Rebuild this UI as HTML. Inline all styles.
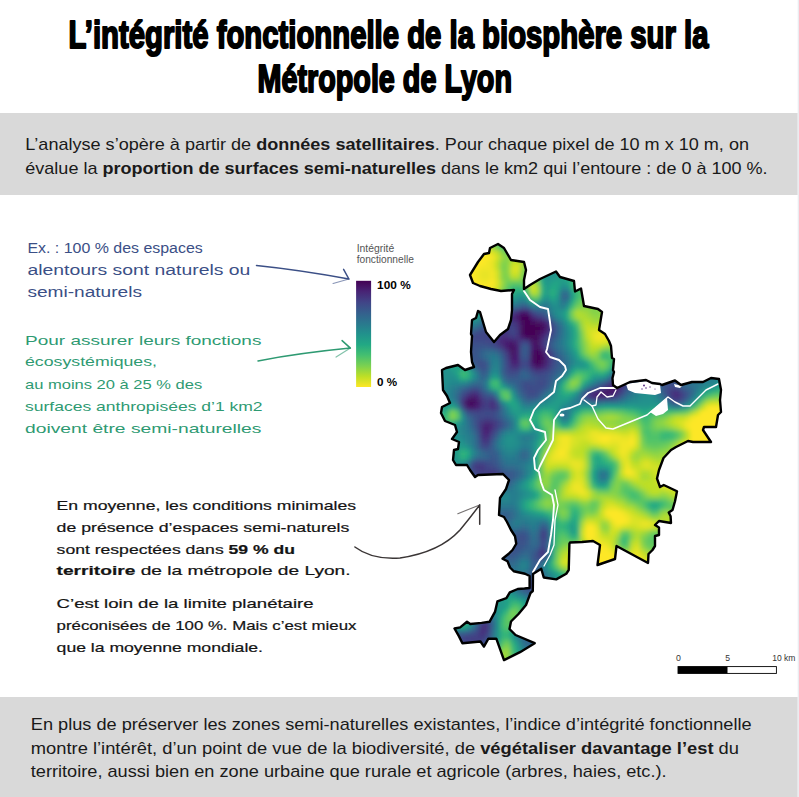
<!DOCTYPE html>
<html><head><meta charset="utf-8"><style>
html,body{margin:0;padding:0;background:#fff;width:799px;height:797px;overflow:hidden}
svg{display:block}
text{font-family:"Liberation Sans", sans-serif}
</style></head><body>
<svg width="799" height="797" viewBox="0 0 799 797"><rect x="0" y="0" width="799" height="797" fill="#fff"/><rect x="0" y="113" width="797.7" height="82" fill="#d9d9d9"/><rect x="0" y="697" width="797.7" height="100" fill="#d9d9d9"/><rect x="797.7" y="0" width="1.3" height="797" fill="#eaecf0"/><text x="68.5" y="47.8" font-size="39" font-weight="bold" fill="#000" textLength="640.0" lengthAdjust="spacingAndGlyphs" font-family="Liberation Sans" stroke="#000" stroke-width="2" stroke-linejoin="round">L’intégrité fonctionnelle de la biosphère sur la</text><text x="257.5" y="91.6" font-size="39" font-weight="bold" fill="#000" textLength="254.5" lengthAdjust="spacingAndGlyphs" font-family="Liberation Sans" stroke="#000" stroke-width="2" stroke-linejoin="round">Métropole de Lyon</text><text x="25.3" y="150.3" font-size="17" font-weight="normal" fill="#1a1a1a" textLength="723.7" lengthAdjust="spacingAndGlyphs" font-family="Liberation Sans">L’analyse s’opère à partir de <tspan font-weight="bold">données satellitaires</tspan>. Pour chaque pixel de 10 m x 10 m, on</text><text x="25.3" y="173.8" font-size="17" font-weight="normal" fill="#1a1a1a" textLength="742.3" lengthAdjust="spacingAndGlyphs" font-family="Liberation Sans">évalue la <tspan font-weight="bold">proportion de surfaces semi-naturelles</tspan> dans le km2 qui l’entoure : de 0 à 100 %.</text><text x="30.8" y="729.9" font-size="17" font-weight="normal" fill="#1a1a1a" textLength="720.8" lengthAdjust="spacingAndGlyphs" font-family="Liberation Sans">En plus de préserver les zones semi-naturelles existantes, l’indice d’intégrité fonctionnelle</text><text x="30.8" y="753.5" font-size="17" font-weight="normal" fill="#1a1a1a" textLength="708.2" lengthAdjust="spacingAndGlyphs" font-family="Liberation Sans">montre l’intérêt, d’un point de vue de la biodiversité, de <tspan font-weight="bold">végétaliser davantage l’est</tspan> du</text><text x="30.8" y="777.2" font-size="17" font-weight="normal" fill="#1a1a1a" textLength="635.8" lengthAdjust="spacingAndGlyphs" font-family="Liberation Sans">territoire, aussi bien en zone urbaine que rurale et agricole (arbres, haies, etc.).</text><text x="27.4" y="253" font-size="14" font-weight="normal" fill="#3b4f86" textLength="175.4" lengthAdjust="spacingAndGlyphs" font-family="Liberation Sans">Ex. : 100 % des espaces</text><text x="27.4" y="275.2" font-size="14" font-weight="normal" fill="#3b4f86" textLength="223.0" lengthAdjust="spacingAndGlyphs" font-family="Liberation Sans">alentours sont naturels ou</text><text x="27.4" y="296.6" font-size="14" font-weight="normal" fill="#3b4f86" textLength="114.6" lengthAdjust="spacingAndGlyphs" font-family="Liberation Sans">semi-naturels</text><text x="25" y="344.6" font-size="13.5" font-weight="normal" fill="#2e9a72" textLength="236.4" lengthAdjust="spacingAndGlyphs" font-family="Liberation Sans">Pour assurer leurs fonctions</text><text x="25" y="366.4" font-size="13.5" font-weight="normal" fill="#2e9a72" textLength="132.0" lengthAdjust="spacingAndGlyphs" font-family="Liberation Sans">écosystémiques,</text><text x="25" y="389" font-size="13.5" font-weight="normal" fill="#2e9a72" textLength="177.2" lengthAdjust="spacingAndGlyphs" font-family="Liberation Sans">au moins 20 à 25 % des</text><text x="25" y="410.8" font-size="13.5" font-weight="normal" fill="#2e9a72" textLength="237.6" lengthAdjust="spacingAndGlyphs" font-family="Liberation Sans">surfaces anthropisées d’1 km2</text><text x="25" y="432.7" font-size="13.5" font-weight="normal" fill="#2e9a72" textLength="236.4" lengthAdjust="spacingAndGlyphs" font-family="Liberation Sans">doivent être semi-naturelles</text><text x="56.6" y="509.9" font-size="13" font-weight="normal" fill="#141414" textLength="299.4" lengthAdjust="spacingAndGlyphs" font-family="Liberation Sans" stroke="#141414" stroke-width="0.2">En moyenne, les conditions minimales</text><text x="56.6" y="531.7" font-size="13" font-weight="normal" fill="#141414" textLength="292.8" lengthAdjust="spacingAndGlyphs" font-family="Liberation Sans" stroke="#141414" stroke-width="0.2">de présence d’espaces semi-naturels</text><text x="56.6" y="553.7" font-size="13" font-weight="normal" fill="#141414" textLength="238.4" lengthAdjust="spacingAndGlyphs" font-family="Liberation Sans" stroke="#141414" stroke-width="0.2">sont respectées dans <tspan font-weight="bold">59 % du</tspan></text><text x="56.6" y="575.4" font-size="13" font-weight="normal" fill="#141414" textLength="294.0" lengthAdjust="spacingAndGlyphs" font-family="Liberation Sans" stroke="#141414" stroke-width="0.2"><tspan font-weight="bold">territoire</tspan> de la métropole de Lyon.</text><text x="56.6" y="608" font-size="13" font-weight="normal" fill="#141414" textLength="257.0" lengthAdjust="spacingAndGlyphs" font-family="Liberation Sans" stroke="#141414" stroke-width="0.2">C’est loin de la limite planétaire</text><text x="56.6" y="630" font-size="13" font-weight="normal" fill="#141414" textLength="299.8" lengthAdjust="spacingAndGlyphs" font-family="Liberation Sans" stroke="#141414" stroke-width="0.2">préconisées de 100 %. Mais c’est mieux</text><text x="56.6" y="651.5" font-size="13" font-weight="normal" fill="#141414" textLength="206.4" lengthAdjust="spacingAndGlyphs" font-family="Liberation Sans" stroke="#141414" stroke-width="0.2">que la moyenne mondiale.</text><g fill="none" stroke-linecap="round" stroke-linejoin="round"><path d="M256.5,265.5 Q300,270 348.9,279 M343.6,269.3 L348.9,279" stroke="#3b4f86" stroke-width="1.5"/><path d="M348.9,279 L333.1,283.5" stroke="#3b4f86" stroke-width="1.2" opacity="0.6"/><path d="M258,360.9 Q300,353 350.4,348.1 M342.1,340.6 L350.4,348.1" stroke="#2e9a72" stroke-width="1.5"/><path d="M350.4,348.1 L336.1,357.1" stroke="#2e9a72" stroke-width="1.2" opacity="0.6"/><path d="M354.9,547 Q372,560 400,558 Q440,552 460,530 Q470,518 479.7,504.9 M479.7,504.9 L479.7,524.2" stroke="#3a3535" stroke-width="1.5"/><path d="M457.8,513.7 L479.7,504.9" stroke="#3a3535" stroke-width="1.1" opacity="0.7"/></g><defs><linearGradient id="vir" x1="0" y1="0" x2="0" y2="1"><stop offset="0" stop-color="#440154"/><stop offset="0.1" stop-color="#482475"/><stop offset="0.2" stop-color="#414487"/><stop offset="0.3" stop-color="#355f8d"/><stop offset="0.4" stop-color="#2a788e"/><stop offset="0.5" stop-color="#21918c"/><stop offset="0.6" stop-color="#22a884"/><stop offset="0.7" stop-color="#44bf70"/><stop offset="0.8" stop-color="#7ad151"/><stop offset="0.9" stop-color="#bddf26"/><stop offset="1" stop-color="#fde725"/></linearGradient></defs><text x="356.7" y="252" font-size="10" font-weight="normal" fill="#555" textLength="37.5" lengthAdjust="spacingAndGlyphs" font-family="Liberation Sans">Intégrité</text><text x="356.7" y="263.1" font-size="10" font-weight="normal" fill="#555" textLength="57.2" lengthAdjust="spacingAndGlyphs" font-family="Liberation Sans">fonctionnelle</text><rect x="356.1" y="280.8" width="15" height="106.2" fill="url(#vir)"/><text x="377.1" y="288.8" font-size="11" font-weight="bold" fill="#000" textLength="33.6" lengthAdjust="spacingAndGlyphs" font-family="Liberation Sans">100 %</text><text x="377.1" y="385.6" font-size="11" font-weight="bold" fill="#000" textLength="20.1" lengthAdjust="spacingAndGlyphs" font-family="Liberation Sans">0 %</text><rect x="678" y="666.6" width="98.4" height="6.8" fill="#fff" stroke="#000" stroke-width="0.9"/><rect x="678" y="666.6" width="49.5" height="6.8" fill="#000"/><text x="676" y="660.5" font-size="9" font-weight="normal" fill="#333" textLength="4.9" lengthAdjust="spacingAndGlyphs" font-family="Liberation Sans">0</text><text x="725.2" y="660.5" font-size="9" font-weight="normal" fill="#333" textLength="4.8" lengthAdjust="spacingAndGlyphs" font-family="Liberation Sans">5</text><text x="772.2" y="660.5" font-size="9" font-weight="normal" fill="#333" textLength="23.2" lengthAdjust="spacingAndGlyphs" font-family="Liberation Sans">10 km</text><defs><clipPath id="mc"><path d="M498,244 L504,248 L511,260 L524,262 L526,270 L524,280 L524,289 L530,285 L540,279 L556,271.5 L560,277 L574,281 L575,291.5 L581,288.5 L584,306 L598,309 L602,312 L599,330 L605,334 L609,341 L611,346 L612,358 L614,359 L613,370 L614,372 L612.5,378 L613,385 L617,388 L630,382 L646,380 L652,383 L660,384 L662,385 L675,380.5 L681,385 L692,382 L703,382 L711,378 L719,379 L721,390 L720,400 L721,412 L718,415 L716,427 L704,427 L703,430 L711,442 L693,442 L688,441 L676,447 L671,450 L663.5,458 L659,470 L657,478.5 L660,487 L663.75,485 L677,491.25 L675,501.25 L672.5,510 L668.75,512.5 L670.6,516.25 L671,523 L659,521 L655,525 L659,527.5 L659,535 L655,536 L655,546 L652.5,550 L648.5,554 L648,563 L616.5,546 L615,559 L597.5,565 L600,545 L593,541 L582,542 L570,542.5 L569.4,543.75 L568.75,570 L566.25,573.75 L556.25,579.4 L543.75,577.5 L541.25,568.75 L533,574 L532.8,591 L530.5,593 L526,605 L518.5,614 L511,621.5 L509.5,629 L515.5,635 L534.7,643.2 L520,652.2 L504,660.1 L496.3,638.7 L488.4,638.7 L483.9,646.6 L480.5,641.5 L462.4,643.2 L459,636.4 L454.5,628.5 L460.2,627.4 L467,621.8 L470.3,624 L481.6,622.9 L489.5,621.8 L495.1,611.6 L497.4,601.4 L506.4,598.1 L509.8,592.4 L517.7,589 L524.5,588.5 L529.6,588 L529.6,576 L525,573.75 L513.75,571.25 L510,567.5 L507.5,561.25 L502.5,558.75 L508.75,553.75 L512.5,550 L516.25,543.75 L515,536.25 L511,530 L507,522 L504,517 L499,515 L500,498 L506,489 L509,480 L503,474 L478,475 L475,477 L470,470 L467,465 L456,465 L453,460 L454,450 L458,449 L459,442 L452,439 L457,432 L455,425 L445,421 L441,413 L442,407 L450,403 L447,396 L443,390 L442,370 L446,368 L458,365 L465,370 L474,367 L472,362 L471,352 L472,336 L471,334 L472,320 L476,318 L478,311 L480,312 L486,332 L494,342 L500,335 L508,329 L511,320 L512,310 L512,294 L514,290 L501,291 L491,289 L480,286 L473,283 L470,275 L478,262 L484,254 L489,253 L490,248 Z"/></clipPath></defs><defs><filter id="bl" x="-5%" y="-5%" width="110%" height="110%"><feGaussianBlur stdDeviation="2"/></filter></defs><g clip-path="url(#mc)"><g filter="url(#bl)"><path fill="#440154" d="M520 315h10v5h-10zM525 320h5v5h-5zM525 325h15v5h-15zM525 330h10v5h-10zM535 350h5v5h-5zM535 355h5v5h-5zM535 360h5v5h-5z"/><path fill="#45075a" d="M540 325h5v5h-5zM520 330h5v5h-5zM535 330h5v5h-5zM530 335h5v5h-5zM470 400h5v5h-5z"/><path fill="#450d5f" d="M520 320h5v5h-5zM530 320h5v5h-5zM520 325h5v5h-5zM525 335h5v5h-5zM535 335h5v5h-5zM510 345h5v5h-5zM535 345h5v5h-5zM540 355h5v5h-5zM465 400h5v5h-5z"/><path fill="#461264" d="M535 320h5v5h-5zM535 340h5v5h-5zM510 350h5v5h-5zM530 355h5v5h-5zM540 360h5v5h-5zM605 390h5v5h-5z"/><path fill="#47186a" d="M520 310h5v5h-5zM515 315h5v5h-5zM540 320h5v5h-5zM540 330h5v5h-5zM510 340h5v5h-5zM530 340h5v5h-5zM530 350h5v5h-5zM540 350h5v5h-5zM510 355h5v5h-5zM530 360h5v5h-5zM535 365h5v5h-5zM600 390h5v5h-5zM610 390h5v5h-5zM470 395h5v5h-5zM475 400h5v5h-5zM470 405h5v5h-5z"/><path fill="#471e70" d="M525 310h5v5h-5zM545 325h5v5h-5zM520 335h5v5h-5zM505 340h5v5h-5zM505 345h5v5h-5zM530 345h5v5h-5zM610 385h5v5h-5zM595 390h5v5h-5zM465 405h5v5h-5zM485 425h5v5h-5z"/><path fill="#482475" d="M530 315h5v5h-5zM500 340h5v5h-5zM515 345h5v5h-5zM515 350h5v5h-5zM515 355h5v5h-5zM510 360h10v5h-10zM540 365h5v5h-5zM615 385h5v5h-5zM475 395h5v5h-5zM475 405h5v5h-5zM485 430h5v5h-5z"/><path fill="#472978" d="M510 315h5v5h-5zM515 320h5v5h-5zM540 335h5v5h-5zM515 340h5v5h-5zM545 355h5v5h-5zM545 360h5v5h-5zM530 365h5v5h-5zM615 380h5v5h-5zM605 385h5v5h-5zM615 390h5v5h-5zM465 395h5v5h-5zM595 395h10v5h-10zM485 420h5v5h-5zM480 425h5v5h-5z"/><path fill="#462f7b" d="M515 310h5v5h-5zM545 320h5v5h-5zM545 330h5v5h-5zM500 335h10v5h-10zM540 345h5v5h-5zM590 390h5v5h-5zM675 390h5v5h-5zM590 395h5v5h-5zM605 395h5v5h-5zM675 395h5v5h-5zM490 400h5v5h-5zM490 405h5v5h-5zM490 425h5v5h-5zM480 430h5v5h-5zM485 435h5v5h-5zM540 550h5v5h-5zM480 625h5v5h-5zM480 630h5v5h-5z"/><path fill="#44347e" d="M535 315h5v5h-5zM515 325h5v5h-5zM500 330h5v5h-5zM515 335h5v5h-5zM540 340h5v5h-5zM500 345h5v5h-5zM505 350h5v5h-5zM545 350h5v5h-5zM510 365h10v5h-10zM545 365h5v5h-5zM610 380h5v5h-5zM620 380h5v5h-5zM470 390h5v5h-5zM670 390h5v5h-5zM460 400h5v5h-5zM480 400h5v5h-5zM480 420h5v5h-5zM490 420h5v5h-5zM480 435h5v5h-5zM475 465h5v5h-5zM485 625h5v5h-5z"/><path fill="#433981" d="M510 320h5v5h-5zM500 325h10v5h-10zM505 330h5v5h-5zM515 330h5v5h-5zM495 335h5v5h-5zM510 335h5v5h-5zM495 340h5v5h-5zM620 375h5v5h-5zM620 385h5v5h-5zM475 390h5v5h-5zM610 395h5v5h-5zM670 395h5v5h-5zM480 405h5v5h-5zM485 440h5v5h-5zM480 465h5v5h-5zM490 470h5v5h-5zM485 475h10v5h-10zM480 480h5v5h-5zM480 635h5v5h-5z"/><path fill="#423f84" d="M510 310h5v5h-5zM505 315h5v5h-5zM540 315h5v5h-5zM505 320h5v5h-5zM495 330h5v5h-5zM490 335h5v5h-5zM545 335h5v5h-5zM505 355h5v5h-5zM535 370h5v5h-5zM600 385h5v5h-5zM480 395h5v5h-5zM485 400h5v5h-5zM485 405h5v5h-5zM495 405h5v5h-5zM495 420h5v5h-5zM490 430h5v5h-5zM480 440h5v5h-5zM480 470h10v5h-10zM495 470h5v5h-5zM480 475h5v5h-5zM495 475h5v5h-5zM475 480h5v5h-5zM485 480h5v5h-5zM475 485h10v5h-10zM470 490h5v5h-5zM465 495h5v5h-5zM455 505h5v5h-5zM440 515h10v5h-10zM440 520h5v5h-5zM540 530h5v5h-5zM540 535h5v5h-5zM540 555h5v5h-5zM480 620h10v5h-10zM485 630h5v5h-5zM465 635h15v5h-15zM470 640h10v5h-10z"/><path fill="#414487" d="M530 310h5v5h-5zM500 320h5v5h-5zM495 325h5v5h-5zM510 325h5v5h-5zM550 325h5v5h-5zM485 330h10v5h-10zM475 335h15v5h-15zM490 340h5v5h-5zM525 340h5v5h-5zM550 355h5v5h-5zM505 360h5v5h-5zM525 360h5v5h-5zM550 360h5v5h-5zM540 370h5v5h-5zM625 370h5v5h-5zM615 375h5v5h-5zM625 375h5v5h-5zM625 380h5v5h-5zM465 390h5v5h-5zM585 390h5v5h-5zM680 390h5v5h-5zM460 395h5v5h-5zM585 395h5v5h-5zM680 395h5v5h-5zM475 410h5v5h-5zM485 415h5v5h-5zM495 425h5v5h-5zM475 460h5v5h-5zM470 465h5v5h-5zM485 465h5v5h-5zM475 470h5v5h-5zM475 475h5v5h-5zM470 485h5v5h-5zM465 490h5v5h-5zM475 490h5v5h-5zM470 495h5v5h-5zM460 500h10v5h-10zM460 505h5v5h-5zM450 510h10v5h-10zM450 515h5v5h-5zM445 520h5v5h-5zM440 525h5v5h-5zM540 545h5v5h-5zM475 630h5v5h-5zM460 635h5v5h-5zM465 640h5v5h-5zM465 645h10v5h-10zM460 650h5v5h-5z"/><path fill="#3f4888" d="M500 315h5v5h-5zM495 320h5v5h-5zM490 325h5v5h-5zM480 330h5v5h-5zM510 330h5v5h-5zM550 330h5v5h-5zM470 335h5v5h-5zM485 340h5v5h-5zM520 340h5v5h-5zM495 345h5v5h-5zM545 345h5v5h-5zM520 360h5v5h-5zM635 360h5v5h-5zM505 365h5v5h-5zM630 365h5v5h-5zM510 370h5v5h-5zM620 370h5v5h-5zM540 380h5v5h-5zM525 385h5v5h-5zM670 385h5v5h-5zM530 390h5v5h-5zM620 390h5v5h-5zM665 390h5v5h-5zM490 395h5v5h-5zM615 395h5v5h-5zM470 410h5v5h-5zM480 410h5v5h-5zM490 410h5v5h-5zM480 415h5v5h-5zM490 415h5v5h-5zM475 420h5v5h-5zM480 460h5v5h-5zM490 465h5v5h-5zM490 480h5v5h-5zM485 485h5v5h-5zM460 495h5v5h-5zM475 495h5v5h-5zM455 500h5v5h-5zM450 505h5v5h-5zM465 505h5v5h-5zM440 510h10v5h-10zM460 510h5v5h-5zM455 515h5v5h-5zM450 520h5v5h-5zM445 525h5v5h-5zM540 540h5v5h-5zM530 580h5v5h-5zM530 585h5v5h-5zM455 640h10v5h-10zM480 640h5v5h-5zM455 645h10v5h-10zM475 645h5v5h-5zM455 650h5v5h-5zM465 650h5v5h-5zM455 655h10v5h-10zM450 660h5v5h-5z"/><path fill="#3d4d89" d="M505 310h5v5h-5zM495 315h5v5h-5zM485 325h5v5h-5zM475 330h5v5h-5zM470 340h15v5h-15zM545 340h5v5h-5zM465 345h5v5h-5zM550 350h5v5h-5zM635 355h10v5h-10zM480 360h5v5h-5zM640 360h5v5h-5zM480 365h5v5h-5zM520 365h10v5h-10zM550 365h5v5h-5zM625 365h5v5h-5zM635 365h5v5h-5zM505 370h5v5h-5zM515 370h5v5h-5zM530 370h5v5h-5zM545 370h5v5h-5zM630 370h5v5h-5zM540 375h5v5h-5zM525 380h5v5h-5zM535 380h5v5h-5zM530 385h15v5h-15zM665 385h5v5h-5zM675 385h5v5h-5zM525 390h5v5h-5zM535 390h5v5h-5zM485 395h5v5h-5zM495 400h5v5h-5zM675 400h5v5h-5zM460 405h5v5h-5zM485 410h5v5h-5zM475 415h5v5h-5zM475 425h5v5h-5zM490 435h5v5h-5zM480 445h10v5h-10zM485 460h5v5h-5zM470 470h5v5h-5zM500 475h5v5h-5zM470 480h5v5h-5zM495 480h5v5h-5zM480 490h5v5h-5zM470 500h5v5h-5zM455 520h5v5h-5zM450 525h5v5h-5zM440 530h10v5h-10zM520 535h5v5h-5zM535 550h5v5h-5zM535 555h5v5h-5zM525 580h5v5h-5zM535 580h5v5h-5zM525 585h5v5h-5zM535 585h5v5h-5zM455 635h5v5h-5zM485 635h5v5h-5zM445 645h10v5h-10zM440 650h15v5h-15zM470 650h5v5h-5zM440 655h15v5h-15zM465 655h5v5h-5zM440 660h10v5h-10zM455 660h10v5h-10z"/><path fill="#3b528a" d="M520 305h5v5h-5zM545 315h5v5h-5zM490 320h5v5h-5zM550 320h5v5h-5zM465 335h5v5h-5zM550 335h5v5h-5zM655 335h5v5h-5zM460 340h10v5h-10zM655 340h5v5h-5zM460 345h5v5h-5zM470 345h10v5h-10zM490 345h5v5h-5zM645 345h15v5h-15zM465 350h10v5h-10zM500 350h5v5h-5zM645 350h15v5h-15zM525 355h5v5h-5zM645 355h15v5h-15zM475 360h5v5h-5zM630 360h5v5h-5zM645 360h15v5h-15zM650 365h15v5h-15zM655 370h10v5h-10zM535 375h5v5h-5zM545 375h5v5h-5zM630 375h5v5h-5zM660 375h10v5h-10zM520 380h5v5h-5zM530 380h5v5h-5zM545 380h5v5h-5zM605 380h5v5h-5zM665 380h10v5h-10zM520 385h5v5h-5zM595 385h5v5h-5zM625 385h5v5h-5zM480 390h5v5h-5zM530 395h5v5h-5zM465 410h5v5h-5zM495 410h5v5h-5zM495 415h5v5h-5zM500 420h5v5h-5zM490 460h5v5h-5zM495 465h5v5h-5zM500 470h5v5h-5zM470 475h5v5h-5zM500 480h5v5h-5zM465 485h5v5h-5zM460 490h5v5h-5zM465 510h5v5h-5zM460 515h5v5h-5zM450 530h5v5h-5zM545 530h5v5h-5zM440 535h5v5h-5zM515 535h5v5h-5zM545 535h5v5h-5zM470 540h5v5h-5zM510 540h15v5h-15zM505 545h15v5h-15zM510 550h5v5h-5zM545 550h5v5h-5zM530 575h5v5h-5zM530 590h10v5h-10zM470 630h5v5h-5zM450 640h5v5h-5zM440 645h5v5h-5z"/><path fill="#39568b" d="M525 305h5v5h-5zM535 310h5v5h-5zM675 315h5v5h-5zM480 325h5v5h-5zM665 325h5v5h-5zM470 330h5v5h-5zM665 330h5v5h-5zM660 335h5v5h-5zM455 340h5v5h-5zM660 340h5v5h-5zM480 345h10v5h-10zM660 345h5v5h-5zM475 350h5v5h-5zM525 350h5v5h-5zM640 350h5v5h-5zM660 350h5v5h-5zM470 355h10v5h-10zM520 355h5v5h-5zM660 355h10v5h-10zM555 360h5v5h-5zM660 360h10v5h-10zM640 365h10v5h-10zM665 365h5v5h-5zM550 370h5v5h-5zM650 370h5v5h-5zM665 370h5v5h-5zM510 375h5v5h-5zM530 375h5v5h-5zM655 375h5v5h-5zM670 375h5v5h-5zM630 380h5v5h-5zM660 380h5v5h-5zM470 385h10v5h-10zM460 390h5v5h-5zM685 390h5v5h-5zM525 395h5v5h-5zM665 395h5v5h-5zM670 400h5v5h-5zM500 425h5v5h-5zM475 430h5v5h-5zM495 430h5v5h-5zM490 455h5v5h-5zM470 460h5v5h-5zM505 475h5v5h-5zM490 485h5v5h-5zM450 500h5v5h-5zM475 500h5v5h-5zM445 505h5v5h-5zM470 505h5v5h-5zM460 520h5v5h-5zM455 525h5v5h-5zM490 525h5v5h-5zM540 525h5v5h-5zM455 530h5v5h-5zM475 530h20v5h-20zM520 530h5v5h-5zM445 535h45v5h-45zM510 535h5v5h-5zM525 535h5v5h-5zM450 540h20v5h-20zM475 540h10v5h-10zM500 540h10v5h-10zM455 545h25v5h-25zM500 545h5v5h-5zM520 545h5v5h-5zM460 550h15v5h-15zM505 550h5v5h-5zM515 550h5v5h-5zM535 575h5v5h-5zM520 580h5v5h-5zM520 585h5v5h-5zM540 590h5v5h-5zM475 625h5v5h-5zM475 650h5v5h-5zM470 655h5v5h-5zM465 660h5v5h-5z"/><path fill="#375a8c" d="M685 305h5v5h-5zM500 310h5v5h-5zM540 310h5v5h-5zM490 315h5v5h-5zM485 320h5v5h-5zM670 325h5v5h-5zM660 330h5v5h-5zM460 335h5v5h-5zM665 335h5v5h-5zM650 340h5v5h-5zM665 340h5v5h-5zM455 345h5v5h-5zM520 345h10v5h-10zM665 345h5v5h-5zM460 350h5v5h-5zM520 350h5v5h-5zM665 350h5v5h-5zM465 355h5v5h-5zM555 355h5v5h-5zM670 355h5v5h-5zM470 360h5v5h-5zM670 360h5v5h-5zM475 365h5v5h-5zM485 365h5v5h-5zM555 365h5v5h-5zM670 365h5v5h-5zM480 370h5v5h-5zM635 370h5v5h-5zM670 370h5v5h-5zM505 375h5v5h-5zM515 375h5v5h-5zM610 375h5v5h-5zM675 380h5v5h-5zM545 385h5v5h-5zM660 385h5v5h-5zM520 390h5v5h-5zM535 395h5v5h-5zM685 395h5v5h-5zM470 415h5v5h-5zM490 440h5v5h-5zM490 450h5v5h-5zM495 460h5v5h-5zM505 470h10v5h-10zM510 475h5v5h-5zM465 480h5v5h-5zM505 480h5v5h-5zM485 490h5v5h-5zM455 495h5v5h-5zM480 495h5v5h-5zM465 515h5v5h-5zM500 515h5v5h-5zM490 520h10v5h-10zM460 525h5v5h-5zM470 525h20v5h-20zM495 525h5v5h-5zM460 530h15v5h-15zM495 530h5v5h-5zM515 530h5v5h-5zM490 535h10v5h-10zM505 535h5v5h-5zM440 540h10v5h-10zM485 540h15v5h-15zM525 540h5v5h-5zM545 540h5v5h-5zM450 545h5v5h-5zM480 545h20v5h-20zM475 550h5v5h-5zM495 550h10v5h-10zM510 555h5v5h-5zM530 555h5v5h-5zM535 560h5v5h-5zM530 570h10v5h-10zM540 585h5v5h-5zM535 595h10v5h-10zM480 615h5v5h-5zM450 635h5v5h-5zM445 640h5v5h-5zM485 640h5v5h-5zM480 645h5v5h-5z"/><path fill="#355f8d" d="M715 275h5v5h-5zM705 285h5v5h-5zM695 295h5v5h-5zM680 315h5v5h-5zM670 320h10v5h-10zM555 325h5v5h-5zM675 325h5v5h-5zM465 330h5v5h-5zM555 330h5v5h-5zM670 330h5v5h-5zM455 335h5v5h-5zM670 335h5v5h-5zM450 340h5v5h-5zM550 340h5v5h-5zM670 340h5v5h-5zM550 345h5v5h-5zM670 345h5v5h-5zM670 350h5v5h-5zM500 355h5v5h-5zM675 355h5v5h-5zM485 360h5v5h-5zM675 360h5v5h-5zM620 365h5v5h-5zM675 365h5v5h-5zM525 370h5v5h-5zM615 370h5v5h-5zM640 370h10v5h-10zM675 370h5v5h-5zM550 375h5v5h-5zM650 375h5v5h-5zM675 375h5v5h-5zM515 380h5v5h-5zM655 380h5v5h-5zM680 385h5v5h-5zM540 390h5v5h-5zM660 390h5v5h-5zM580 395h5v5h-5zM680 400h5v5h-5zM470 420h5v5h-5zM475 435h5v5h-5zM490 445h5v5h-5zM485 450h5v5h-5zM495 455h5v5h-5zM465 475h5v5h-5zM495 485h10v5h-10zM440 505h5v5h-5zM475 505h5v5h-5zM470 510h5v5h-5zM495 515h5v5h-5zM505 515h5v5h-5zM465 520h25v5h-25zM500 520h5v5h-5zM465 525h5v5h-5zM510 530h5v5h-5zM525 530h5v5h-5zM500 535h5v5h-5zM445 545h5v5h-5zM525 545h5v5h-5zM535 545h5v5h-5zM545 545h5v5h-5zM455 550h5v5h-5zM480 550h15v5h-15zM530 550h5v5h-5zM485 555h25v5h-25zM530 560h5v5h-5zM530 565h10v5h-10zM525 575h5v5h-5zM540 580h5v5h-5zM525 590h5v5h-5zM545 595h5v5h-5zM485 615h5v5h-5zM465 630h5v5h-5zM440 640h5v5h-5z"/><path fill="#33638d" d="M515 305h5v5h-5zM690 305h5v5h-5zM495 310h5v5h-5zM680 310h10v5h-10zM680 320h5v5h-5zM675 330h5v5h-5zM450 335h5v5h-5zM555 335h5v5h-5zM675 335h5v5h-5zM675 340h5v5h-5zM675 345h5v5h-5zM480 350h5v5h-5zM555 350h5v5h-5zM675 350h5v5h-5zM480 355h5v5h-5zM630 355h5v5h-5zM500 360h5v5h-5zM560 360h5v5h-5zM625 360h5v5h-5zM500 365h5v5h-5zM560 365h5v5h-5zM485 370h5v5h-5zM500 370h5v5h-5zM520 370h5v5h-5zM555 370h5v5h-5zM680 370h5v5h-5zM480 375h5v5h-5zM520 375h10v5h-10zM635 375h5v5h-5zM510 380h5v5h-5zM550 380h5v5h-5zM465 385h5v5h-5zM480 385h5v5h-5zM515 385h5v5h-5zM590 385h5v5h-5zM630 385h5v5h-5zM485 390h5v5h-5zM625 390h5v5h-5zM620 395h5v5h-5zM500 415h5v5h-5zM505 420h5v5h-5zM470 425h5v5h-5zM475 440h5v5h-5zM495 450h5v5h-5zM485 455h5v5h-5zM500 465h5v5h-5zM465 470h5v5h-5zM515 470h5v5h-5zM460 485h5v5h-5zM475 510h5v5h-5zM500 510h10v5h-10zM470 515h25v5h-25zM500 525h5v5h-5zM545 525h5v5h-5zM500 530h10v5h-10zM440 545h5v5h-5zM450 550h5v5h-5zM520 550h5v5h-5zM460 555h25v5h-25zM515 555h5v5h-5zM545 555h5v5h-5zM485 560h20v5h-20zM515 580h5v5h-5zM545 590h5v5h-5zM530 595h5v5h-5zM540 600h10v5h-10zM475 620h5v5h-5zM490 620h5v5h-5zM490 625h5v5h-5zM525 635h15v5h-15zM525 640h25v5h-25zM535 645h25v5h-25zM480 650h5v5h-5zM535 650h30v5h-30zM540 655h30v5h-30zM470 660h5v5h-5zM545 660h30v5h-30z"/><path fill="#31678d" d="M720 270h5v5h-5zM720 275h5v5h-5zM710 280h5v5h-5zM700 290h10v5h-10zM560 295h10v5h-10zM700 295h5v5h-5zM690 300h10v5h-10zM505 305h10v5h-10zM545 310h5v5h-5zM685 315h5v5h-5zM475 325h5v5h-5zM680 325h5v5h-5zM450 330h15v5h-15zM680 330h5v5h-5zM440 335h10v5h-10zM650 335h5v5h-5zM680 335h5v5h-5zM645 340h5v5h-5zM680 340h5v5h-5zM450 345h5v5h-5zM640 345h5v5h-5zM680 345h5v5h-5zM455 350h5v5h-5zM495 350h5v5h-5zM635 350h5v5h-5zM680 350h5v5h-5zM560 355h5v5h-5zM680 355h5v5h-5zM680 360h5v5h-5zM680 365h5v5h-5zM680 375h5v5h-5zM505 380h5v5h-5zM600 380h5v5h-5zM680 380h5v5h-5zM685 385h5v5h-5zM580 390h5v5h-5zM690 390h5v5h-5zM455 395h5v5h-5zM520 395h5v5h-5zM595 400h5v5h-5zM505 425h5v5h-5zM495 435h5v5h-5zM475 445h5v5h-5zM480 450h5v5h-5zM520 450h5v5h-5zM480 455h5v5h-5zM520 455h5v5h-5zM515 475h5v5h-5zM505 485h5v5h-5zM455 490h5v5h-5zM490 490h5v5h-5zM450 495h5v5h-5zM485 495h5v5h-5zM445 500h5v5h-5zM480 500h5v5h-5zM480 510h5v5h-5zM505 520h5v5h-5zM535 535h5v5h-5zM535 540h5v5h-5zM530 545h5v5h-5zM445 550h5v5h-5zM525 550h5v5h-5zM480 560h5v5h-5zM505 560h10v5h-10zM495 565h5v5h-5zM520 575h5v5h-5zM540 575h5v5h-5zM515 585h5v5h-5zM535 600h5v5h-5zM550 600h5v5h-5zM545 605h10v5h-10zM455 630h10v5h-10zM535 630h5v5h-5zM540 635h10v5h-10zM550 640h10v5h-10zM530 645h5v5h-5zM560 645h5v5h-5zM565 650h10v5h-10zM475 655h5v5h-5zM570 655h10v5h-10zM575 660h5v5h-5z"/><path fill="#306c8e" d="M715 280h5v5h-5zM710 285h5v5h-5zM680 305h5v5h-5zM695 305h5v5h-5zM675 310h5v5h-5zM690 310h5v5h-5zM485 315h5v5h-5zM670 315h5v5h-5zM690 315h5v5h-5zM480 320h5v5h-5zM555 320h5v5h-5zM665 320h5v5h-5zM685 320h5v5h-5zM660 325h5v5h-5zM685 325h5v5h-5zM440 330h10v5h-10zM655 330h5v5h-5zM685 330h5v5h-5zM685 335h5v5h-5zM445 340h5v5h-5zM685 340h5v5h-5zM685 345h5v5h-5zM485 350h5v5h-5zM685 350h5v5h-5zM460 355h5v5h-5zM685 355h5v5h-5zM685 360h5v5h-5zM685 365h5v5h-5zM560 370h5v5h-5zM685 370h5v5h-5zM645 375h5v5h-5zM685 375h5v5h-5zM475 380h10v5h-10zM635 380h5v5h-5zM650 380h5v5h-5zM460 385h5v5h-5zM655 385h5v5h-5zM455 390h5v5h-5zM525 400h5v5h-5zM590 400h5v5h-5zM500 405h5v5h-5zM500 410h5v5h-5zM465 415h5v5h-5zM525 450h5v5h-5zM475 455h5v5h-5zM525 455h5v5h-5zM500 460h5v5h-5zM465 465h5v5h-5zM505 465h10v5h-10zM460 480h5v5h-5zM510 480h5v5h-5zM480 505h5v5h-5zM485 510h15v5h-15zM510 510h5v5h-5zM510 515h5v5h-5zM505 525h5v5h-5zM520 525h5v5h-5zM535 530h5v5h-5zM530 540h5v5h-5zM440 550h5v5h-5zM455 555h5v5h-5zM475 560h5v5h-5zM540 560h5v5h-5zM485 565h10v5h-10zM500 565h10v5h-10zM495 570h5v5h-5zM515 575h5v5h-5zM510 580h5v5h-5zM545 585h5v5h-5zM520 590h5v5h-5zM550 595h5v5h-5zM540 605h5v5h-5zM555 605h5v5h-5zM545 610h15v5h-15zM475 615h5v5h-5zM555 615h10v5h-10zM490 630h5v5h-5zM530 630h5v5h-5zM540 630h5v5h-5zM445 635h5v5h-5zM490 635h5v5h-5zM520 635h5v5h-5zM550 635h10v5h-10zM490 640h5v5h-5zM560 640h10v5h-10zM485 645h5v5h-5zM525 645h5v5h-5zM565 645h10v5h-10zM530 650h5v5h-5zM575 650h5v5h-5zM535 655h5v5h-5zM580 655h5v5h-5zM540 660h5v5h-5zM580 660h10v5h-10z"/><path fill="#2e708e" d="M720 265h5v5h-5zM715 270h5v5h-5zM710 275h5v5h-5zM705 280h5v5h-5zM700 285h5v5h-5zM560 290h10v5h-10zM695 290h5v5h-5zM690 295h5v5h-5zM705 295h5v5h-5zM685 300h5v5h-5zM700 300h5v5h-5zM500 305h5v5h-5zM530 305h5v5h-5zM540 305h5v5h-5zM490 310h5v5h-5zM695 310h5v5h-5zM550 315h5v5h-5zM690 320h5v5h-5zM690 325h5v5h-5zM690 330h5v5h-5zM690 335h5v5h-5zM440 340h5v5h-5zM555 340h5v5h-5zM690 340h5v5h-5zM555 345h5v5h-5zM690 345h5v5h-5zM490 350h5v5h-5zM560 350h5v5h-5zM690 350h5v5h-5zM485 355h5v5h-5zM690 355h5v5h-5zM465 360h5v5h-5zM565 360h5v5h-5zM690 360h5v5h-5zM470 365h5v5h-5zM690 365h5v5h-5zM485 375h5v5h-5zM500 375h5v5h-5zM555 375h5v5h-5zM640 375h5v5h-5zM685 380h5v5h-5zM550 385h5v5h-5zM690 385h5v5h-5zM490 390h5v5h-5zM515 390h5v5h-5zM545 390h5v5h-5zM495 395h5v5h-5zM540 395h5v5h-5zM660 395h5v5h-5zM455 400h5v5h-5zM530 400h5v5h-5zM600 400h5v5h-5zM470 430h5v5h-5zM515 465h5v5h-5zM520 470h5v5h-5zM460 475h5v5h-5zM600 475h5v5h-5zM490 495h5v5h-5zM440 500h5v5h-5zM485 500h5v5h-5zM485 505h5v5h-5zM540 520h5v5h-5zM525 525h5v5h-5zM530 535h5v5h-5zM450 555h5v5h-5zM520 555h10v5h-10zM515 560h5v5h-5zM480 565h5v5h-5zM510 565h5v5h-5zM490 570h5v5h-5zM500 570h15v5h-15zM525 570h5v5h-5zM540 570h5v5h-5zM505 575h10v5h-10zM505 580h5v5h-5zM545 580h5v5h-5zM555 600h5v5h-5zM480 610h10v5h-10zM560 610h5v5h-5zM545 615h10v5h-10zM565 615h5v5h-5zM550 620h20v5h-20zM550 625h25v5h-25zM450 630h5v5h-5zM525 630h5v5h-5zM545 630h35v5h-35zM560 635h25v5h-25zM570 640h15v5h-15zM575 645h20v5h-20zM580 650h15v5h-15zM585 655h20v5h-20zM590 660h15v5h-15z"/><path fill="#2c748e" d="M720 280h5v5h-5zM715 285h5v5h-5zM710 290h5v5h-5zM520 300h5v5h-5zM560 300h5v5h-5zM705 300h5v5h-5zM545 305h5v5h-5zM700 305h5v5h-5zM700 310h5v5h-5zM695 315h10v5h-10zM695 320h10v5h-10zM450 325h25v5h-25zM560 325h5v5h-5zM695 325h5v5h-5zM560 330h5v5h-5zM695 330h5v5h-5zM695 335h5v5h-5zM695 340h5v5h-5zM695 345h5v5h-5zM695 350h5v5h-5zM695 355h5v5h-5zM695 360h5v5h-5zM565 365h5v5h-5zM475 370h5v5h-5zM690 370h5v5h-5zM690 375h5v5h-5zM470 380h5v5h-5zM595 380h5v5h-5zM690 380h5v5h-5zM635 385h5v5h-5zM630 390h5v5h-5zM625 395h5v5h-5zM690 395h5v5h-5zM585 400h5v5h-5zM605 400h10v5h-10zM665 400h5v5h-5zM685 400h5v5h-5zM560 410h10v5h-10zM505 415h5v5h-5zM465 420h5v5h-5zM500 430h5v5h-5zM495 440h5v5h-5zM495 445h5v5h-5zM500 455h5v5h-5zM515 455h5v5h-5zM505 460h20v5h-20zM600 470h5v5h-5zM520 475h5v5h-5zM455 485h5v5h-5zM495 490h5v5h-5zM490 500h5v5h-5zM490 505h25v5h-25zM510 525h10v5h-10zM535 525h5v5h-5zM530 530h5v5h-5zM440 555h10v5h-10zM470 560h5v5h-5zM485 570h5v5h-5zM515 570h5v5h-5zM495 575h10v5h-10zM510 585h5v5h-5zM550 590h5v5h-5zM535 605h5v5h-5zM475 610h5v5h-5zM540 610h5v5h-5zM490 615h5v5h-5zM545 620h5v5h-5zM570 620h5v5h-5zM535 625h15v5h-15zM575 625h5v5h-5zM580 630h5v5h-5zM440 635h5v5h-5zM520 640h5v5h-5zM585 640h5v5h-5zM595 650h5v5h-5zM605 660h5v5h-5z"/><path fill="#2a788e" d="M720 285h5v5h-5zM715 290h10v5h-10zM710 295h5v5h-5zM710 300h5v5h-5zM535 305h5v5h-5zM705 305h10v5h-10zM705 310h10v5h-10zM705 315h5v5h-5zM705 320h5v5h-5zM440 325h10v5h-10zM700 325h10v5h-10zM700 330h10v5h-10zM560 335h5v5h-5zM700 335h10v5h-10zM700 340h5v5h-5zM445 345h5v5h-5zM560 345h5v5h-5zM700 345h5v5h-5zM450 350h5v5h-5zM700 350h5v5h-5zM495 355h5v5h-5zM565 355h5v5h-5zM700 355h5v5h-5zM700 360h5v5h-5zM695 365h5v5h-5zM695 370h5v5h-5zM695 375h5v5h-5zM695 380h5v5h-5zM455 385h5v5h-5zM510 385h5v5h-5zM585 385h5v5h-5zM650 385h5v5h-5zM695 385h5v5h-5zM655 390h5v5h-5zM520 400h5v5h-5zM535 400h5v5h-5zM575 400h5v5h-5zM615 400h5v5h-5zM560 415h10v5h-10zM510 420h5v5h-5zM465 425h5v5h-5zM510 425h5v5h-5zM470 435h5v5h-5zM525 435h5v5h-5zM470 440h5v5h-5zM475 450h5v5h-5zM520 465h5v5h-5zM460 470h5v5h-5zM510 485h5v5h-5zM450 490h5v5h-5zM445 495h5v5h-5zM515 510h5v5h-5zM515 515h5v5h-5zM510 520h5v5h-5zM520 520h5v5h-5zM545 520h5v5h-5zM450 560h10v5h-10zM475 565h5v5h-5zM515 565h5v5h-5zM520 570h5v5h-5zM490 575h5v5h-5zM545 575h5v5h-5zM500 580h5v5h-5zM525 595h5v5h-5zM530 600h5v5h-5zM560 605h5v5h-5zM565 610h5v5h-5zM540 615h5v5h-5zM540 620h5v5h-5zM470 625h5v5h-5zM520 630h5v5h-5zM585 635h5v5h-5zM590 640h5v5h-5zM595 645h5v5h-5zM600 650h5v5h-5zM530 655h5v5h-5zM605 655h5v5h-5zM610 660h5v5h-5z"/><path fill="#287c8e" d="M715 295h10v5h-10zM715 300h10v5h-10zM715 305h10v5h-10zM715 310h10v5h-10zM710 315h15v5h-15zM710 320h15v5h-15zM710 325h15v5h-15zM710 330h15v5h-15zM710 335h10v5h-10zM560 340h5v5h-5zM705 340h15v5h-15zM705 345h10v5h-10zM705 350h10v5h-10zM455 355h5v5h-5zM490 355h5v5h-5zM705 355h10v5h-10zM490 360h5v5h-5zM620 360h5v5h-5zM705 360h5v5h-5zM700 365h10v5h-10zM610 370h5v5h-5zM700 370h10v5h-10zM475 375h5v5h-5zM700 375h5v5h-5zM640 380h10v5h-10zM700 380h5v5h-5zM450 390h5v5h-5zM450 395h5v5h-5zM575 395h5v5h-5zM580 400h5v5h-5zM465 430h5v5h-5zM520 435h5v5h-5zM520 445h10v5h-10zM500 450h5v5h-5zM515 450h5v5h-5zM505 455h10v5h-10zM525 460h5v5h-5zM455 480h5v5h-5zM515 480h5v5h-5zM500 490h5v5h-5zM510 490h5v5h-5zM495 495h5v5h-5zM510 495h5v5h-5zM495 500h5v5h-5zM510 500h5v5h-5zM525 520h5v5h-5zM535 520h5v5h-5zM530 525h5v5h-5zM440 560h10v5h-10zM465 560h5v5h-5zM525 560h5v5h-5zM525 565h5v5h-5zM540 565h5v5h-5zM480 570h5v5h-5zM485 575h5v5h-5zM505 585h5v5h-5zM515 590h5v5h-5zM555 595h5v5h-5zM475 605h10v5h-10zM570 615h5v5h-5zM535 620h5v5h-5zM575 620h5v5h-5zM530 625h5v5h-5zM445 630h5v5h-5zM490 645h5v5h-5zM485 650h5v5h-5zM480 655h5v5h-5zM475 660h5v5h-5zM535 660h5v5h-5z"/><path fill="#27808d" d="M515 300h5v5h-5zM525 300h5v5h-5zM545 300h5v5h-5zM565 300h5v5h-5zM560 305h5v5h-5zM480 315h5v5h-5zM475 320h5v5h-5zM560 320h5v5h-5zM720 335h5v5h-5zM720 340h5v5h-5zM440 345h5v5h-5zM715 345h10v5h-10zM565 350h5v5h-5zM630 350h5v5h-5zM715 350h10v5h-10zM715 355h10v5h-10zM495 360h5v5h-5zM710 360h15v5h-15zM490 365h5v5h-5zM615 365h5v5h-5zM710 365h15v5h-15zM565 370h5v5h-5zM710 370h15v5h-15zM560 375h5v5h-5zM605 375h5v5h-5zM705 375h10v5h-10zM555 380h5v5h-5zM705 380h10v5h-10zM450 385h5v5h-5zM485 385h5v5h-5zM550 390h5v5h-5zM635 390h5v5h-5zM695 390h5v5h-5zM515 395h5v5h-5zM545 395h5v5h-5zM630 395h5v5h-5zM570 400h5v5h-5zM620 400h5v5h-5zM565 405h5v5h-5zM675 405h5v5h-5zM460 410h5v5h-5zM505 410h5v5h-5zM465 435h5v5h-5zM530 435h5v5h-5zM520 440h10v5h-10zM470 445h5v5h-5zM470 455h5v5h-5zM465 460h5v5h-5zM460 465h5v5h-5zM525 470h5v5h-5zM605 470h5v5h-5zM455 475h5v5h-5zM605 475h5v5h-5zM450 485h5v5h-5zM505 490h5v5h-5zM515 490h5v5h-5zM440 495h5v5h-5zM515 495h5v5h-5zM500 500h10v5h-10zM515 505h5v5h-5zM520 515h5v5h-5zM515 520h5v5h-5zM530 520h5v5h-5zM460 560h5v5h-5zM520 560h5v5h-5zM450 565h10v5h-10zM470 565h5v5h-5zM495 580h5v5h-5zM550 585h5v5h-5zM475 600h5v5h-5zM560 600h5v5h-5zM485 605h5v5h-5zM490 610h5v5h-5zM535 610h5v5h-5zM440 625h5v5h-5zM580 625h5v5h-5zM440 630h5v5h-5zM585 630h5v5h-5zM515 635h5v5h-5zM590 635h5v5h-5zM595 640h5v5h-5zM520 645h5v5h-5zM525 650h5v5h-5zM605 650h5v5h-5z"/><path fill="#26848d" d="M505 300h5v5h-5zM495 305h5v5h-5zM485 310h5v5h-5zM550 310h5v5h-5zM440 320h30v5h-30zM640 340h5v5h-5zM625 355h5v5h-5zM460 360h5v5h-5zM570 360h5v5h-5zM495 365h5v5h-5zM715 375h5v5h-5zM465 380h5v5h-5zM485 380h5v5h-5zM500 380h5v5h-5zM700 385h5v5h-5zM445 390h5v5h-5zM445 395h5v5h-5zM655 395h5v5h-5zM540 400h5v5h-5zM660 400h5v5h-5zM525 405h5v5h-5zM570 405h5v5h-5zM670 405h5v5h-5zM510 415h5v5h-5zM460 425h5v5h-5zM460 430h5v5h-5zM505 430h5v5h-5zM500 435h5v5h-5zM465 440h5v5h-5zM500 445h5v5h-5zM505 450h10v5h-10zM530 450h5v5h-5zM530 455h5v5h-5zM525 465h5v5h-5zM455 470h5v5h-5zM450 480h5v5h-5zM515 485h5v5h-5zM445 490h5v5h-5zM515 500h5v5h-5zM525 515h5v5h-5zM445 565h5v5h-5zM520 565h5v5h-5zM450 570h10v5h-10zM475 570h5v5h-5zM545 570h5v5h-5zM480 575h5v5h-5zM465 580h5v5h-5zM490 580h5v5h-5zM550 580h5v5h-5zM500 585h5v5h-5zM555 590h5v5h-5zM470 595h10v5h-10zM480 600h5v5h-5zM470 605h5v5h-5zM530 605h5v5h-5zM565 605h5v5h-5zM470 610h5v5h-5zM470 615h5v5h-5zM535 615h5v5h-5zM530 620h5v5h-5zM515 630h5v5h-5zM600 645h5v5h-5zM610 655h5v5h-5zM615 660h5v5h-5z"/><path fill="#24898d" d="M520 295h5v5h-5zM510 300h5v5h-5zM540 300h5v5h-5zM550 305h5v5h-5zM555 315h5v5h-5zM470 320h5v5h-5zM565 330h5v5h-5zM650 330h5v5h-5zM565 335h5v5h-5zM565 345h5v5h-5zM570 355h5v5h-5zM490 370h10v5h-10zM720 375h5v5h-5zM450 380h10v5h-10zM590 380h5v5h-5zM715 380h5v5h-5zM445 385h5v5h-5zM640 385h10v5h-10zM440 390h5v5h-5zM650 390h5v5h-5zM440 395h5v5h-5zM635 395h5v5h-5zM450 400h5v5h-5zM500 400h5v5h-5zM625 400h5v5h-5zM505 405h5v5h-5zM530 405h5v5h-5zM560 405h5v5h-5zM460 420h5v5h-5zM510 430h5v5h-5zM530 430h5v5h-5zM460 435h5v5h-5zM515 435h5v5h-5zM500 440h5v5h-5zM530 440h5v5h-5zM515 445h5v5h-5zM530 445h5v5h-5zM530 460h5v5h-5zM455 465h5v5h-5zM595 470h5v5h-5zM450 475h5v5h-5zM525 475h5v5h-5zM595 475h5v5h-5zM600 480h5v5h-5zM445 485h5v5h-5zM440 490h5v5h-5zM520 490h5v5h-5zM500 495h10v5h-10zM520 510h5v5h-5zM530 515h5v5h-5zM440 565h5v5h-5zM460 565h10v5h-10zM460 570h5v5h-5zM470 570h5v5h-5zM455 575h15v5h-15zM550 575h5v5h-5zM460 580h5v5h-5zM470 580h5v5h-5zM485 580h5v5h-5zM465 585h15v5h-15zM495 585h5v5h-5zM470 590h10v5h-10zM480 595h5v5h-5zM520 595h5v5h-5zM470 600h5v5h-5zM485 600h5v5h-5zM570 610h5v5h-5zM470 620h5v5h-5zM445 625h5v5h-5zM525 625h5v5h-5z"/><path fill="#228d8c" d="M720 260h5v5h-5zM710 270h5v5h-5zM700 280h5v5h-5zM560 285h5v5h-5zM690 290h5v5h-5zM680 300h5v5h-5zM555 305h5v5h-5zM670 310h5v5h-5zM660 320h5v5h-5zM565 325h5v5h-5zM565 340h5v5h-5zM635 345h5v5h-5zM445 350h5v5h-5zM450 355h5v5h-5zM465 365h5v5h-5zM450 375h5v5h-5zM445 380h5v5h-5zM460 380h5v5h-5zM440 385h5v5h-5zM505 385h5v5h-5zM555 385h5v5h-5zM640 390h10v5h-10zM550 395h5v5h-5zM640 395h5v5h-5zM440 400h10v5h-10zM545 400h5v5h-5zM630 400h10v5h-10zM655 400h5v5h-5zM520 405h5v5h-5zM575 405h5v5h-5zM680 405h5v5h-5zM455 425h5v5h-5zM455 430h5v5h-5zM515 430h5v5h-5zM515 440h5v5h-5zM505 445h10v5h-10zM470 450h5v5h-5zM450 470h5v5h-5zM445 475h5v5h-5zM440 480h10v5h-10zM520 480h5v5h-5zM440 485h5v5h-5zM520 495h5v5h-5zM535 515h10v5h-10zM545 560h5v5h-5zM465 570h5v5h-5zM450 575h5v5h-5zM470 575h10v5h-10zM475 580h10v5h-10zM460 585h5v5h-5zM480 585h5v5h-5zM490 585h5v5h-5zM465 590h5v5h-5zM480 590h5v5h-5zM510 590h5v5h-5zM485 595h5v5h-5zM490 605h5v5h-5zM530 610h5v5h-5zM530 615h5v5h-5zM575 615h5v5h-5zM440 620h5v5h-5zM495 620h5v5h-5zM580 620h5v5h-5zM495 625h5v5h-5zM585 625h5v5h-5zM530 660h5v5h-5z"/><path fill="#21918c" d="M565 240h20v5h-20zM565 245h10v5h-10zM560 250h15v5h-15zM555 255h15v5h-15zM550 260h15v5h-15zM545 265h15v5h-15zM545 270h10v5h-10zM545 275h5v5h-5zM565 285h5v5h-5zM500 300h5v5h-5zM555 300h5v5h-5zM555 310h5v5h-5zM450 315h15v5h-15zM560 315h5v5h-5zM645 335h5v5h-5zM570 350h5v5h-5zM575 360h5v5h-5zM440 365h5v5h-5zM570 365h5v5h-5zM440 370h10v5h-10zM440 375h10v5h-10zM440 380h5v5h-5zM705 385h10v5h-10zM570 395h5v5h-5zM645 395h10v5h-10zM695 395h5v5h-5zM565 400h5v5h-5zM640 400h15v5h-15zM690 400h5v5h-5zM455 405h5v5h-5zM535 405h5v5h-5zM560 420h5v5h-5zM520 430h10v5h-10zM535 430h5v5h-5zM440 435h20v5h-20zM505 435h10v5h-10zM535 435h5v5h-5zM440 440h10v5h-10zM460 440h5v5h-5zM505 440h10v5h-10zM440 445h10v5h-10zM440 450h15v5h-15zM440 455h15v5h-15zM440 460h20v5h-20zM440 465h15v5h-15zM530 465h5v5h-5zM440 470h10v5h-10zM530 470h5v5h-5zM440 475h5v5h-5zM525 490h5v5h-5zM445 570h5v5h-5zM455 580h5v5h-5zM485 585h5v5h-5zM555 585h5v5h-5zM485 590h10v5h-10zM465 595h5v5h-5zM490 595h5v5h-5zM560 595h5v5h-5zM525 600h5v5h-5zM565 600h5v5h-5zM495 610h5v5h-5zM495 615h5v5h-5zM525 615h5v5h-5zM450 625h5v5h-5zM495 630h5v5h-5zM590 630h5v5h-5zM495 635h5v5h-5zM595 635h5v5h-5zM495 640h5v5h-5zM600 640h5v5h-5zM605 645h5v5h-5zM520 650h5v5h-5zM610 650h5v5h-5zM525 655h5v5h-5zM615 655h5v5h-5z"/><path fill="#21958b" d="M560 245h5v5h-5zM575 245h5v5h-5zM555 250h5v5h-5zM550 255h5v5h-5zM570 255h5v5h-5zM545 260h5v5h-5zM565 260h5v5h-5zM560 265h5v5h-5zM555 270h5v5h-5zM550 275h5v5h-5zM545 280h5v5h-5zM515 295h5v5h-5zM545 295h5v5h-5zM550 300h5v5h-5zM490 305h5v5h-5zM565 305h5v5h-5zM480 310h5v5h-5zM560 310h5v5h-5zM440 315h10v5h-10zM465 315h5v5h-5zM655 325h5v5h-5zM440 350h5v5h-5zM445 355h5v5h-5zM440 360h10v5h-10zM455 360h5v5h-5zM580 360h5v5h-5zM445 365h5v5h-5zM450 370h5v5h-5zM470 370h5v5h-5zM470 375h5v5h-5zM595 375h10v5h-10zM495 390h5v5h-5zM510 390h5v5h-5zM555 390h5v5h-5zM575 390h5v5h-5zM665 405h5v5h-5zM510 410h5v5h-5zM570 410h5v5h-5zM460 415h5v5h-5zM565 420h5v5h-5zM515 425h5v5h-5zM450 430h5v5h-5zM450 440h10v5h-10zM450 445h5v5h-5zM465 445h5v5h-5zM460 460h5v5h-5zM595 480h5v5h-5zM520 485h5v5h-5zM525 495h5v5h-5zM525 510h5v5h-5zM545 565h5v5h-5zM440 570h5v5h-5zM550 570h5v5h-5zM555 580h5v5h-5zM460 590h5v5h-5zM495 590h5v5h-5zM515 595h5v5h-5zM465 600h5v5h-5zM490 600h5v5h-5zM495 605h5v5h-5zM525 610h5v5h-5zM445 620h5v5h-5zM525 620h5v5h-5zM520 625h5v5h-5zM515 640h5v5h-5zM620 660h5v5h-5z"/><path fill="#219989" d="M560 240h5v5h-5zM585 240h5v5h-5zM580 245h5v5h-5zM575 250h5v5h-5zM715 265h5v5h-5zM555 275h5v5h-5zM705 275h5v5h-5zM560 280h5v5h-5zM545 285h5v5h-5zM695 285h5v5h-5zM555 295h5v5h-5zM685 295h5v5h-5zM675 305h5v5h-5zM475 315h5v5h-5zM665 315h5v5h-5zM565 320h5v5h-5zM440 355h5v5h-5zM580 365h5v5h-5zM455 375h5v5h-5zM720 380h5v5h-5zM580 385h5v5h-5zM700 390h5v5h-5zM555 395h5v5h-5zM515 400h5v5h-5zM550 400h5v5h-5zM560 400h5v5h-5zM440 405h5v5h-5zM640 405h10v5h-10zM520 410h5v5h-5zM555 410h5v5h-5zM515 415h5v5h-5zM515 420h5v5h-5zM450 425h5v5h-5zM440 430h10v5h-10zM455 445h5v5h-5zM600 465h5v5h-5zM605 480h5v5h-5zM520 500h5v5h-5zM520 505h5v5h-5zM545 515h5v5h-5zM550 525h5v5h-5zM570 525h5v5h-5zM550 530h5v5h-5zM550 535h5v5h-5zM445 575h5v5h-5zM555 575h5v5h-5zM455 585h5v5h-5zM560 585h5v5h-5zM505 590h5v5h-5zM560 590h5v5h-5zM495 595h5v5h-5zM495 600h10v5h-10zM465 605h5v5h-5zM500 605h5v5h-5zM570 605h5v5h-5zM465 610h5v5h-5zM575 610h5v5h-5zM585 620h5v5h-5zM465 625h5v5h-5zM485 655h5v5h-5zM480 660h5v5h-5z"/><path fill="#229c88" d="M540 265h5v5h-5zM565 265h5v5h-5zM540 270h5v5h-5zM560 270h5v5h-5zM545 290h5v5h-5zM510 295h5v5h-5zM570 295h5v5h-5zM485 305h5v5h-5zM570 330h5v5h-5zM570 335h5v5h-5zM570 345h5v5h-5zM575 355h5v5h-5zM450 360h5v5h-5zM460 365h5v5h-5zM575 365h5v5h-5zM490 375h10v5h-10zM565 375h5v5h-5zM585 380h5v5h-5zM715 385h5v5h-5zM555 400h5v5h-5zM445 405h5v5h-5zM540 405h5v5h-5zM555 405h5v5h-5zM580 405h5v5h-5zM590 405h10v5h-10zM635 405h5v5h-5zM650 405h5v5h-5zM685 405h5v5h-5zM515 410h5v5h-5zM525 410h5v5h-5zM535 425h5v5h-5zM535 440h5v5h-5zM460 445h5v5h-5zM455 450h5v5h-5zM455 455h5v5h-5zM595 465h5v5h-5zM530 490h5v5h-5zM530 495h5v5h-5zM530 510h5v5h-5zM570 530h5v5h-5zM550 540h5v5h-5zM450 580h5v5h-5zM500 590h5v5h-5zM460 595h5v5h-5zM565 595h5v5h-5zM525 605h5v5h-5zM580 615h5v5h-5zM455 625h5v5h-5zM515 625h5v5h-5zM590 625h5v5h-5zM510 630h5v5h-5zM595 630h5v5h-5zM510 635h5v5h-5zM600 635h5v5h-5zM605 640h5v5h-5zM615 650h5v5h-5z"/><path fill="#22a087" d="M555 245h5v5h-5zM585 245h5v5h-5zM550 250h5v5h-5zM545 255h5v5h-5zM575 255h5v5h-5zM570 260h5v5h-5zM540 275h5v5h-5zM560 275h5v5h-5zM550 280h5v5h-5zM565 280h5v5h-5zM555 290h5v5h-5zM570 290h5v5h-5zM525 295h5v5h-5zM540 295h5v5h-5zM530 300h10v5h-10zM455 310h15v5h-15zM470 315h5v5h-5zM570 325h5v5h-5zM570 340h5v5h-5zM615 360h5v5h-5zM450 365h10v5h-10zM585 365h5v5h-5zM590 375h5v5h-5zM560 395h10v5h-10zM510 405h10v5h-10zM545 405h10v5h-10zM585 405h5v5h-5zM625 405h10v5h-10zM655 405h10v5h-10zM530 410h5v5h-5zM555 415h5v5h-5zM455 420h5v5h-5zM530 425h5v5h-5zM535 445h5v5h-5zM605 465h5v5h-5zM530 475h5v5h-5zM525 480h5v5h-5zM525 485h5v5h-5zM550 520h5v5h-5zM570 520h5v5h-5zM550 545h5v5h-5zM550 550h5v5h-5zM440 575h5v5h-5zM560 580h5v5h-5zM455 590h5v5h-5zM565 590h5v5h-5zM500 595h5v5h-5zM510 595h5v5h-5zM460 600h5v5h-5zM505 600h5v5h-5zM570 600h5v5h-5zM575 605h5v5h-5zM465 615h5v5h-5zM495 645h5v5h-5zM515 645h5v5h-5zM610 645h5v5h-5zM490 650h5v5h-5zM620 655h5v5h-5zM525 660h5v5h-5zM625 660h5v5h-5z"/><path fill="#22a485" d="M555 240h5v5h-5zM580 250h5v5h-5zM540 260h5v5h-5zM565 270h5v5h-5zM555 280h5v5h-5zM555 285h5v5h-5zM515 290h10v5h-10zM480 305h5v5h-5zM440 310h15v5h-15zM475 310h5v5h-5zM620 355h5v5h-5zM610 365h5v5h-5zM455 370h5v5h-5zM560 380h5v5h-5zM500 385h5v5h-5zM510 395h5v5h-5zM505 400h5v5h-5zM600 405h5v5h-5zM615 405h10v5h-10zM570 415h5v5h-5zM445 425h5v5h-5zM535 450h5v5h-5zM595 455h5v5h-5zM595 460h5v5h-5zM535 510h5v5h-5zM560 575h5v5h-5zM445 580h5v5h-5zM450 585h5v5h-5zM565 585h5v5h-5zM505 595h5v5h-5zM570 595h5v5h-5zM460 605h5v5h-5zM580 610h5v5h-5zM440 615h5v5h-5zM520 615h5v5h-5zM585 615h5v5h-5zM520 620h5v5h-5zM460 625h5v5h-5zM515 650h5v5h-5zM520 655h5v5h-5z"/><path fill="#22a884" d="M570 265h5v5h-5zM565 275h5v5h-5zM540 280h5v5h-5zM550 285h5v5h-5zM505 295h5v5h-5zM550 295h5v5h-5zM495 300h5v5h-5zM465 305h5v5h-5zM470 310h5v5h-5zM575 350h5v5h-5zM625 350h5v5h-5zM585 360h5v5h-5zM570 370h5v5h-5zM605 370h5v5h-5zM720 385h5v5h-5zM705 390h5v5h-5zM510 400h5v5h-5zM450 405h5v5h-5zM605 405h10v5h-10zM440 410h5v5h-5zM535 410h5v5h-5zM535 420h5v5h-5zM540 435h5v5h-5zM465 455h5v5h-5zM535 455h5v5h-5zM535 460h5v5h-5zM600 485h5v5h-5zM650 505h5v5h-5zM550 555h5v5h-5zM555 570h5v5h-5zM440 580h5v5h-5zM565 580h5v5h-5zM570 585h5v5h-5zM570 590h5v5h-5zM455 595h5v5h-5zM575 595h5v5h-5zM455 600h5v5h-5zM520 600h5v5h-5zM575 600h5v5h-5zM505 605h5v5h-5zM580 605h5v5h-5zM460 610h5v5h-5zM500 610h5v5h-5zM445 615h5v5h-5zM590 615h5v5h-5zM450 620h5v5h-5zM590 620h5v5h-5zM595 625h5v5h-5zM600 630h5v5h-5zM605 635h5v5h-5zM610 640h5v5h-5zM615 645h5v5h-5zM620 650h5v5h-5zM625 655h5v5h-5zM630 660h5v5h-5z"/><path fill="#28ac81" d="M590 240h5v5h-5zM580 255h5v5h-5zM575 260h5v5h-5zM570 270h5v5h-5zM570 300h5v5h-5zM460 305h5v5h-5zM470 305h10v5h-10zM565 310h5v5h-5zM565 315h5v5h-5zM630 345h5v5h-5zM560 390h5v5h-5zM570 390h5v5h-5zM575 410h5v5h-5zM640 410h10v5h-10zM530 415h5v5h-5zM530 420h5v5h-5zM440 425h5v5h-5zM540 430h5v5h-5zM465 450h5v5h-5zM600 460h5v5h-5zM535 465h5v5h-5zM590 470h5v5h-5zM590 475h5v5h-5zM535 490h5v5h-5zM535 495h5v5h-5zM525 500h5v5h-5zM525 505h5v5h-5zM655 505h5v5h-5zM540 510h5v5h-5zM570 515h5v5h-5zM565 525h5v5h-5zM445 585h5v5h-5zM450 590h5v5h-5zM575 590h5v5h-5zM580 595h5v5h-5zM580 600h5v5h-5zM585 605h10v5h-10zM520 610h5v5h-5zM585 610h10v5h-10zM595 615h10v5h-10zM595 620h10v5h-10zM600 625h15v5h-15zM605 630h10v5h-10zM610 635h15v5h-15zM615 640h10v5h-10zM620 645h15v5h-15zM625 650h10v5h-10zM630 655h15v5h-15zM635 660h10v5h-10z"/><path fill="#2db07d" d="M550 245h5v5h-5zM590 245h5v5h-5zM545 250h5v5h-5zM585 250h5v5h-5zM540 255h5v5h-5zM575 265h5v5h-5zM570 275h5v5h-5zM540 285h5v5h-5zM510 290h5v5h-5zM540 290h5v5h-5zM550 290h5v5h-5zM635 340h5v5h-5zM590 370h10v5h-10zM465 375h5v5h-5zM490 385h5v5h-5zM560 385h5v5h-5zM700 395h5v5h-5zM695 400h5v5h-5zM550 410h5v5h-5zM440 415h5v5h-5zM520 415h5v5h-5zM535 415h5v5h-5zM450 420h5v5h-5zM460 455h5v5h-5zM610 465h5v5h-5zM535 470h5v5h-5zM610 470h5v5h-5zM595 485h5v5h-5zM650 500h10v5h-10zM550 515h5v5h-5zM575 515h5v5h-5zM575 520h5v5h-5zM575 525h5v5h-5zM575 530h5v5h-5zM570 535h5v5h-5zM550 565h5v5h-5zM440 585h5v5h-5zM440 590h10v5h-10zM445 595h10v5h-10zM450 600h5v5h-5zM585 600h5v5h-5zM455 605h5v5h-5zM520 605h5v5h-5zM440 610h5v5h-5zM595 610h5v5h-5zM460 615h5v5h-5zM465 620h5v5h-5zM605 620h5v5h-5zM510 625h5v5h-5zM615 630h5v5h-5zM510 640h5v5h-5zM625 640h5v5h-5zM635 650h5v5h-5zM515 655h5v5h-5zM520 660h5v5h-5zM645 660h5v5h-5z"/><path fill="#33b47a" d="M500 240h10v5h-10zM580 260h5v5h-5zM535 265h5v5h-5zM535 270h5v5h-5zM575 270h5v5h-5zM570 285h5v5h-5zM455 305h5v5h-5zM570 320h5v5h-5zM575 330h5v5h-5zM575 335h5v5h-5zM575 345h5v5h-5zM590 365h5v5h-5zM465 370h5v5h-5zM460 375h5v5h-5zM565 390h5v5h-5zM710 390h5v5h-5zM525 415h5v5h-5zM440 420h10v5h-10zM555 420h5v5h-5zM570 420h5v5h-5zM460 450h5v5h-5zM590 455h5v5h-5zM600 455h5v5h-5zM605 460h5v5h-5zM590 465h5v5h-5zM530 480h5v5h-5zM590 480h5v5h-5zM530 485h5v5h-5zM605 485h5v5h-5zM570 510h10v5h-10zM555 520h5v5h-5zM565 520h5v5h-5zM555 525h10v5h-10zM565 575h5v5h-5zM570 580h5v5h-5zM575 585h5v5h-5zM580 590h5v5h-5zM440 595h5v5h-5zM440 600h10v5h-10zM510 600h10v5h-10zM440 605h15v5h-15zM445 610h5v5h-5zM455 610h5v5h-5zM450 615h5v5h-5zM500 615h5v5h-5zM455 620h5v5h-5zM515 620h5v5h-5zM500 630h5v5h-5zM500 635h5v5h-5z"/><path fill="#39b777" d="M550 240h5v5h-5zM595 240h5v5h-5zM585 255h5v5h-5zM535 260h5v5h-5zM570 280h5v5h-5zM515 285h5v5h-5zM500 295h5v5h-5zM490 300h5v5h-5zM440 305h15v5h-15zM645 330h5v5h-5zM640 335h5v5h-5zM575 340h5v5h-5zM580 355h5v5h-5zM605 355h5v5h-5zM610 360h5v5h-5zM585 370h5v5h-5zM600 370h5v5h-5zM585 375h5v5h-5zM580 380h5v5h-5zM495 385h5v5h-5zM690 405h5v5h-5zM445 410h5v5h-5zM540 410h10v5h-10zM635 410h5v5h-5zM650 410h5v5h-5zM645 415h5v5h-5zM560 425h10v5h-10zM660 435h10v5h-10zM540 440h5v5h-5zM590 460h5v5h-5zM610 475h5v5h-5zM530 500h5v5h-5zM530 505h5v5h-5zM545 510h5v5h-5zM565 530h5v5h-5zM550 560h5v5h-5zM585 595h5v5h-5zM590 600h5v5h-5zM595 605h5v5h-5zM450 610h5v5h-5zM600 610h5v5h-5zM455 615h5v5h-5zM605 615h5v5h-5zM610 620h5v5h-5zM615 625h5v5h-5zM505 630h5v5h-5zM620 630h5v5h-5zM505 635h5v5h-5zM625 635h5v5h-5zM630 640h5v5h-5zM635 645h5v5h-5zM640 650h5v5h-5zM645 655h5v5h-5zM485 660h5v5h-5zM650 660h5v5h-5z"/><path fill="#3ebb73" d="M505 245h5v5h-5zM595 245h5v5h-5zM590 250h5v5h-5zM580 265h5v5h-5zM575 275h5v5h-5zM510 285h5v5h-5zM525 290h5v5h-5zM575 290h5v5h-5zM575 295h5v5h-5zM655 320h5v5h-5zM575 325h5v5h-5zM650 325h5v5h-5zM600 355h5v5h-5zM615 355h5v5h-5zM460 370h5v5h-5zM575 370h10v5h-10zM490 380h10v5h-10zM715 390h10v5h-10zM655 410h10v5h-10zM550 415h5v5h-5zM640 415h5v5h-5zM665 430h5v5h-5zM670 435h5v5h-5zM595 450h5v5h-5zM610 460h5v5h-5zM535 475h5v5h-5zM645 500h5v5h-5zM660 500h5v5h-5zM570 505h5v5h-5zM645 505h5v5h-5zM560 520h5v5h-5zM555 530h5v5h-5zM575 535h5v5h-5zM620 540h5v5h-5zM560 570h5v5h-5zM505 610h5v5h-5zM460 620h5v5h-5zM500 620h5v5h-5zM500 625h5v5h-5zM510 645h5v5h-5z"/><path fill="#44bf70" d="M510 240h5v5h-5zM500 245h5v5h-5zM590 255h5v5h-5zM720 255h5v5h-5zM585 260h5v5h-5zM715 260h5v5h-5zM710 265h5v5h-5zM580 270h5v5h-5zM705 270h5v5h-5zM700 275h5v5h-5zM695 280h5v5h-5zM520 285h5v5h-5zM690 285h5v5h-5zM505 290h5v5h-5zM685 290h5v5h-5zM680 295h5v5h-5zM485 300h5v5h-5zM675 300h5v5h-5zM570 305h5v5h-5zM670 305h5v5h-5zM665 310h5v5h-5zM660 315h5v5h-5zM605 350h5v5h-5zM620 350h5v5h-5zM500 395h5v5h-5zM580 410h5v5h-5zM630 410h5v5h-5zM665 410h5v5h-5zM445 415h5v5h-5zM645 420h5v5h-5zM520 425h5v5h-5zM540 425h5v5h-5zM645 430h5v5h-5zM660 430h5v5h-5zM670 430h5v5h-5zM630 490h5v5h-5zM630 495h10v5h-10zM575 505h5v5h-5zM660 505h5v5h-5zM550 510h5v5h-5zM555 515h5v5h-5zM560 530h5v5h-5zM555 535h5v5h-5zM620 535h10v5h-10zM510 650h5v5h-5zM490 655h5v5h-5zM515 660h5v5h-5z"/><path fill="#4dc26b" d="M495 240h5v5h-5zM600 240h5v5h-5zM510 245h5v5h-5zM545 245h5v5h-5zM600 245h5v5h-5zM540 250h5v5h-5zM595 250h5v5h-5zM530 265h5v5h-5zM585 265h5v5h-5zM530 270h5v5h-5zM535 275h5v5h-5zM580 275h5v5h-5zM575 280h10v5h-10zM575 285h10v5h-10zM580 290h5v5h-5zM465 300h20v5h-20zM600 350h5v5h-5zM610 355h5v5h-5zM590 360h5v5h-5zM570 375h5v5h-5zM565 380h5v5h-5zM590 410h5v5h-5zM625 410h5v5h-5zM670 410h5v5h-5zM540 415h5v5h-5zM575 415h5v5h-5zM640 420h5v5h-5zM525 425h5v5h-5zM645 425h5v5h-5zM645 435h15v5h-15zM540 445h5v5h-5zM590 450h5v5h-5zM605 455h5v5h-5zM625 490h5v5h-5zM535 505h5v5h-5zM650 510h5v5h-5zM565 535h5v5h-5zM655 535h5v5h-5zM555 540h5v5h-5zM625 540h5v5h-5zM575 580h5v5h-5zM510 605h5v5h-5zM510 620h5v5h-5zM500 640h5v5h-5zM495 650h5v5h-5zM510 655h5v5h-5z"/><path fill="#56c566" d="M515 240h5v5h-5zM605 240h5v5h-5zM605 245h5v5h-5zM600 250h5v5h-5zM535 255h5v5h-5zM595 255h5v5h-5zM590 260h5v5h-5zM590 265h5v5h-5zM585 270h10v5h-10zM585 275h10v5h-10zM585 280h10v5h-10zM585 285h5v5h-5zM580 295h5v5h-5zM460 300h5v5h-5zM575 300h5v5h-5zM595 365h5v5h-5zM605 365h5v5h-5zM580 375h5v5h-5zM575 385h5v5h-5zM500 390h10v5h-10zM705 395h5v5h-5zM455 410h5v5h-5zM585 410h5v5h-5zM595 410h5v5h-5zM675 410h5v5h-5zM545 415h5v5h-5zM650 415h5v5h-5zM540 420h5v5h-5zM550 420h5v5h-5zM545 430h5v5h-5zM650 430h10v5h-10zM545 435h5v5h-5zM675 435h5v5h-5zM645 440h20v5h-20zM600 450h5v5h-5zM555 475h10v5h-10zM555 480h5v5h-5zM535 485h5v5h-5zM550 485h5v5h-5zM590 485h5v5h-5zM625 485h5v5h-5zM540 490h5v5h-5zM635 490h5v5h-5zM540 495h5v5h-5zM535 500h5v5h-5zM640 500h5v5h-5zM665 500h5v5h-5zM655 510h5v5h-5zM650 535h5v5h-5zM655 540h10v5h-10zM555 545h5v5h-5zM660 545h10v5h-10zM670 550h5v5h-5zM675 555h5v5h-5zM570 575h5v5h-5zM580 585h5v5h-5zM585 590h5v5h-5zM595 600h5v5h-5zM515 605h5v5h-5zM605 610h5v5h-5zM515 615h5v5h-5zM505 625h5v5h-5z"/><path fill="#5fc860" d="M610 240h40v5h-40zM610 245h35v5h-35zM605 250h35v5h-35zM600 255h35v5h-35zM530 260h5v5h-5zM595 260h35v5h-35zM595 265h30v5h-30zM525 270h5v5h-5zM595 270h20v5h-20zM595 275h15v5h-15zM595 280h10v5h-10zM505 285h5v5h-5zM590 285h5v5h-5zM585 290h5v5h-5zM440 300h20v5h-20zM575 320h5v5h-5zM625 345h5v5h-5zM580 350h5v5h-5zM585 355h5v5h-5zM605 360h5v5h-5zM565 385h5v5h-5zM620 410h5v5h-5zM680 410h5v5h-5zM455 415h5v5h-5zM635 415h5v5h-5zM520 420h5v5h-5zM555 425h5v5h-5zM570 425h5v5h-5zM640 425h5v5h-5zM640 430h5v5h-5zM675 430h5v5h-5zM665 440h5v5h-5zM540 450h5v5h-5zM615 465h5v5h-5zM535 480h5v5h-5zM550 480h5v5h-5zM610 480h5v5h-5zM555 485h5v5h-5zM620 485h5v5h-5zM550 490h5v5h-5zM620 490h5v5h-5zM625 495h5v5h-5zM640 495h5v5h-5zM635 500h5v5h-5zM565 505h5v5h-5zM590 505h5v5h-5zM665 505h10v5h-10zM555 510h5v5h-5zM580 510h5v5h-5zM565 515h5v5h-5zM705 530h5v5h-5zM560 535h5v5h-5zM570 540h5v5h-5zM645 540h10v5h-10zM665 540h5v5h-5zM715 540h10v5h-10zM620 545h5v5h-5zM655 545h5v5h-5zM670 545h5v5h-5zM660 550h10v5h-10zM675 550h5v5h-5zM670 555h5v5h-5zM680 555h5v5h-5zM675 560h20v5h-20zM555 565h5v5h-5zM680 565h15v5h-15zM565 570h5v5h-5zM685 570h15v5h-15zM690 575h15v5h-15zM695 580h15v5h-15zM700 585h15v5h-15zM705 590h15v5h-15zM590 595h5v5h-5zM710 595h15v5h-15zM715 600h10v5h-10zM720 605h5v5h-5zM505 615h5v5h-5zM505 620h5v5h-5zM615 620h5v5h-5zM625 630h5v5h-5zM635 640h5v5h-5zM645 650h5v5h-5zM655 660h5v5h-5z"/><path fill="#68cb5b" d="M545 240h5v5h-5zM650 240h5v5h-5zM515 245h5v5h-5zM645 245h5v5h-5zM505 250h5v5h-5zM640 250h5v5h-5zM635 255h5v5h-5zM630 260h5v5h-5zM525 265h5v5h-5zM625 265h5v5h-5zM615 270h10v5h-10zM525 275h5v5h-5zM610 275h10v5h-10zM510 280h15v5h-15zM605 280h10v5h-10zM595 285h10v5h-10zM590 290h5v5h-5zM530 295h10v5h-10zM585 295h5v5h-5zM630 340h5v5h-5zM580 345h5v5h-5zM610 350h10v5h-10zM505 395h5v5h-5zM600 410h5v5h-5zM615 410h5v5h-5zM655 415h5v5h-5zM525 420h5v5h-5zM575 420h5v5h-5zM650 420h5v5h-5zM545 425h5v5h-5zM650 425h5v5h-5zM545 440h5v5h-5zM650 445h10v5h-10zM560 470h5v5h-5zM550 475h5v5h-5zM545 490h5v5h-5zM550 495h5v5h-5zM570 500h5v5h-5zM590 500h5v5h-5zM540 505h5v5h-5zM580 505h5v5h-5zM640 505h5v5h-5zM685 515h5v5h-5zM690 520h15v5h-15zM695 525h30v5h-30zM625 530h5v5h-5zM700 530h5v5h-5zM710 530h15v5h-15zM645 535h5v5h-5zM660 535h5v5h-5zM705 535h20v5h-20zM560 540h5v5h-5zM670 540h5v5h-5zM710 540h5v5h-5zM625 545h5v5h-5zM650 545h5v5h-5zM675 545h5v5h-5zM715 545h10v5h-10zM680 550h5v5h-5zM720 550h5v5h-5zM665 555h5v5h-5zM685 555h5v5h-5zM670 560h5v5h-5zM675 565h5v5h-5zM695 565h5v5h-5zM680 570h5v5h-5zM700 570h5v5h-5zM685 575h5v5h-5zM705 575h5v5h-5zM690 580h5v5h-5zM710 580h5v5h-5zM695 585h5v5h-5zM715 585h5v5h-5zM700 590h5v5h-5zM720 590h5v5h-5zM705 595h5v5h-5zM710 600h5v5h-5zM600 605h5v5h-5zM715 605h5v5h-5zM515 610h5v5h-5zM720 610h5v5h-5zM610 615h5v5h-5zM620 625h5v5h-5zM630 635h5v5h-5zM505 640h5v5h-5zM640 645h5v5h-5zM650 655h5v5h-5zM510 660h5v5h-5z"/><path fill="#71ce56" d="M520 240h5v5h-5zM655 240h5v5h-5zM495 245h5v5h-5zM540 245h5v5h-5zM650 245h5v5h-5zM510 250h5v5h-5zM535 250h5v5h-5zM645 250h5v5h-5zM640 255h10v5h-10zM635 260h5v5h-5zM630 265h10v5h-10zM625 270h5v5h-5zM530 275h5v5h-5zM620 275h10v5h-10zM505 280h5v5h-5zM615 280h5v5h-5zM525 285h5v5h-5zM605 285h10v5h-10zM500 290h5v5h-5zM595 290h15v5h-15zM495 295h5v5h-5zM590 295h10v5h-10zM580 300h5v5h-5zM570 315h5v5h-5zM580 340h5v5h-5zM595 360h5v5h-5zM600 365h5v5h-5zM575 375h5v5h-5zM710 395h5v5h-5zM720 395h5v5h-5zM700 400h5v5h-5zM695 405h5v5h-5zM605 410h10v5h-10zM685 410h5v5h-5zM630 415h5v5h-5zM660 415h5v5h-5zM545 420h5v5h-5zM550 425h5v5h-5zM640 435h5v5h-5zM670 440h5v5h-5zM645 445h5v5h-5zM660 445h5v5h-5zM615 460h5v5h-5zM555 470h5v5h-5zM615 470h5v5h-5zM565 475h5v5h-5zM620 480h5v5h-5zM610 485h5v5h-5zM630 485h5v5h-5zM555 490h5v5h-5zM600 490h10v5h-10zM545 495h5v5h-5zM565 500h5v5h-5zM575 500h5v5h-5zM595 500h5v5h-5zM630 500h5v5h-5zM670 500h5v5h-5zM550 505h15v5h-15zM585 505h5v5h-5zM595 505h5v5h-5zM675 505h5v5h-5zM565 510h5v5h-5zM590 510h5v5h-5zM675 510h15v5h-15zM560 515h5v5h-5zM580 515h5v5h-5zM680 515h5v5h-5zM690 515h35v5h-35zM705 520h20v5h-20zM620 530h5v5h-5zM650 530h10v5h-10zM565 540h5v5h-5zM575 540h5v5h-5zM645 545h5v5h-5zM680 545h5v5h-5zM555 550h5v5h-5zM655 550h5v5h-5zM685 550h5v5h-5zM660 555h5v5h-5zM690 555h5v5h-5zM695 560h5v5h-5zM700 565h5v5h-5zM705 570h5v5h-5zM575 575h5v5h-5zM710 575h5v5h-5zM580 580h5v5h-5zM715 580h5v5h-5zM720 585h5v5h-5zM510 615h5v5h-5zM500 645h5v5h-5z"/><path fill="#7ad151" d="M490 240h5v5h-5zM660 240h5v5h-5zM655 245h10v5h-10zM515 250h5v5h-5zM650 250h10v5h-10zM530 255h5v5h-5zM650 255h5v5h-5zM525 260h5v5h-5zM640 260h10v5h-10zM500 265h5v5h-5zM640 265h5v5h-5zM630 270h10v5h-10zM505 275h5v5h-5zM520 275h5v5h-5zM630 275h5v5h-5zM620 280h10v5h-10zM615 285h10v5h-10zM610 290h10v5h-10zM600 295h10v5h-10zM585 300h20v5h-20zM575 305h5v5h-5zM570 310h5v5h-5zM580 335h5v5h-5zM635 335h5v5h-5zM620 345h5v5h-5zM595 355h5v5h-5zM600 360h5v5h-5zM570 385h5v5h-5zM715 395h5v5h-5zM450 410h5v5h-5zM580 415h5v5h-5zM625 415h5v5h-5zM635 420h5v5h-5zM655 425h10v5h-10zM640 440h5v5h-5zM665 445h5v5h-5zM540 455h5v5h-5zM540 470h5v5h-5zM565 470h5v5h-5zM560 480h5v5h-5zM625 480h5v5h-5zM540 485h5v5h-5zM595 490h5v5h-5zM615 490h5v5h-5zM640 490h5v5h-5zM555 495h5v5h-5zM620 495h5v5h-5zM645 495h5v5h-5zM660 495h5v5h-5zM540 500h5v5h-5zM555 500h10v5h-10zM545 505h5v5h-5zM680 505h5v5h-5zM585 510h5v5h-5zM645 510h5v5h-5zM670 510h5v5h-5zM690 510h35v5h-35zM685 520h5v5h-5zM690 525h5v5h-5zM660 530h5v5h-5zM695 530h5v5h-5zM665 535h10v5h-10zM700 535h5v5h-5zM675 540h5v5h-5zM705 540h5v5h-5zM710 545h5v5h-5zM715 550h5v5h-5zM555 555h5v5h-5zM720 555h5v5h-5zM665 560h5v5h-5zM670 565h5v5h-5zM570 570h5v5h-5zM675 570h5v5h-5zM680 575h5v5h-5zM685 580h5v5h-5zM690 585h5v5h-5zM695 590h5v5h-5zM700 595h5v5h-5zM705 600h5v5h-5zM710 605h5v5h-5zM510 610h5v5h-5zM715 610h5v5h-5zM720 615h5v5h-5zM505 660h5v5h-5z"/><path fill="#85d34a" d="M525 240h5v5h-5zM540 240h5v5h-5zM665 240h10v5h-10zM520 245h5v5h-5zM665 245h10v5h-10zM500 250h5v5h-5zM660 250h10v5h-10zM505 255h5v5h-5zM655 255h10v5h-10zM500 260h10v5h-10zM650 260h10v5h-10zM505 265h5v5h-5zM645 265h5v5h-5zM500 270h10v5h-10zM520 270h5v5h-5zM640 270h5v5h-5zM500 275h5v5h-5zM635 275h5v5h-5zM525 280h5v5h-5zM535 280h5v5h-5zM630 280h5v5h-5zM625 285h5v5h-5zM620 290h5v5h-5zM440 295h5v5h-5zM610 295h10v5h-10zM605 300h10v5h-10zM580 305h25v5h-25zM590 310h10v5h-10zM580 330h5v5h-5zM640 330h5v5h-5zM615 345h5v5h-5zM590 355h5v5h-5zM575 380h5v5h-5zM450 415h5v5h-5zM620 415h5v5h-5zM665 415h5v5h-5zM615 420h15v5h-15zM655 420h5v5h-5zM665 425h5v5h-5zM680 430h5v5h-5zM680 435h5v5h-5zM545 445h5v5h-5zM640 445h5v5h-5zM605 450h5v5h-5zM650 450h10v5h-10zM610 455h5v5h-5zM540 460h5v5h-5zM540 465h5v5h-5zM550 470h5v5h-5zM585 470h5v5h-5zM540 475h5v5h-5zM585 475h5v5h-5zM615 475h5v5h-5zM615 480h5v5h-5zM545 485h5v5h-5zM615 485h5v5h-5zM610 490h5v5h-5zM650 495h10v5h-10zM665 495h5v5h-5zM550 500h5v5h-5zM625 500h5v5h-5zM675 500h5v5h-5zM635 505h5v5h-5zM685 505h40v5h-40zM560 510h5v5h-5zM675 515h5v5h-5zM640 535h5v5h-5zM615 540h5v5h-5zM640 540h5v5h-5zM560 545h5v5h-5zM650 550h5v5h-5zM690 550h5v5h-5zM695 555h5v5h-5zM555 560h5v5h-5zM700 560h5v5h-5zM705 565h5v5h-5zM710 570h5v5h-5zM715 575h5v5h-5zM720 580h5v5h-5zM585 585h5v5h-5zM505 645h5v5h-5zM495 655h5v5h-5zM490 660h5v5h-5z"/><path fill="#90d643" d="M675 240h5v5h-5zM525 245h5v5h-5zM535 245h5v5h-5zM530 250h5v5h-5zM510 255h5v5h-5zM650 265h5v5h-5zM645 270h5v5h-5zM640 275h5v5h-5zM635 280h5v5h-5zM500 285h5v5h-5zM630 285h5v5h-5zM625 290h5v5h-5zM445 295h10v5h-10zM620 295h5v5h-5zM615 300h5v5h-5zM605 305h10v5h-10zM600 310h5v5h-5zM595 315h5v5h-5zM650 320h5v5h-5zM645 325h5v5h-5zM605 345h10v5h-10zM585 350h5v5h-5zM595 350h5v5h-5zM570 380h5v5h-5zM585 415h15v5h-15zM580 420h5v5h-5zM600 420h15v5h-15zM630 420h5v5h-5zM660 420h5v5h-5zM575 425h5v5h-5zM550 430h5v5h-5zM585 450h5v5h-5zM645 450h5v5h-5zM660 450h5v5h-5zM585 455h5v5h-5zM545 475h5v5h-5zM540 480h10v5h-10zM635 485h5v5h-5zM615 495h5v5h-5zM545 500h5v5h-5zM580 500h10v5h-10zM680 500h40v5h-40zM595 510h5v5h-5zM660 510h5v5h-5zM650 515h10v5h-10zM680 520h5v5h-5zM600 525h10v5h-10zM685 525h5v5h-5zM645 530h5v5h-5zM665 530h5v5h-5zM690 530h5v5h-5zM630 535h5v5h-5zM675 535h5v5h-5zM695 535h5v5h-5zM680 540h5v5h-5zM570 545h5v5h-5zM685 545h5v5h-5zM655 555h5v5h-5zM660 560h5v5h-5zM665 565h5v5h-5zM575 570h5v5h-5zM670 570h5v5h-5zM580 575h5v5h-5zM590 590h5v5h-5zM505 655h5v5h-5zM500 660h5v5h-5z"/><path fill="#9cd83c" d="M530 240h10v5h-10zM490 245h5v5h-5zM530 245h5v5h-5zM675 245h5v5h-5zM520 250h5v5h-5zM670 250h5v5h-5zM500 255h5v5h-5zM515 255h5v5h-5zM525 255h5v5h-5zM665 255h5v5h-5zM660 260h5v5h-5zM520 265h5v5h-5zM655 265h5v5h-5zM650 270h5v5h-5zM645 275h5v5h-5zM500 280h5v5h-5zM640 280h5v5h-5zM690 280h5v5h-5zM635 285h5v5h-5zM685 285h5v5h-5zM630 290h5v5h-5zM680 290h5v5h-5zM455 295h5v5h-5zM625 295h5v5h-5zM675 295h5v5h-5zM620 300h5v5h-5zM670 300h5v5h-5zM665 305h5v5h-5zM585 310h5v5h-5zM605 310h5v5h-5zM660 310h5v5h-5zM590 315h5v5h-5zM600 315h5v5h-5zM655 315h5v5h-5zM580 325h5v5h-5zM625 340h5v5h-5zM585 345h5v5h-5zM600 415h5v5h-5zM615 415h5v5h-5zM595 420h5v5h-5zM615 425h10v5h-10zM635 425h5v5h-5zM670 425h5v5h-5zM675 440h5v5h-5zM590 445h5v5h-5zM670 445h5v5h-5zM635 450h10v5h-10zM665 450h5v5h-5zM635 455h5v5h-5zM655 455h5v5h-5zM585 460h5v5h-5zM585 465h5v5h-5zM585 480h5v5h-5zM560 485h5v5h-5zM595 495h5v5h-5zM610 495h5v5h-5zM680 495h35v5h-35zM720 500h5v5h-5zM640 510h5v5h-5zM665 510h5v5h-5zM670 515h5v5h-5zM580 520h5v5h-5zM600 520h5v5h-5zM660 525h10v5h-10zM630 530h5v5h-5zM670 530h5v5h-5zM615 535h5v5h-5zM700 540h5v5h-5zM565 545h5v5h-5zM575 545h5v5h-5zM615 545h5v5h-5zM640 545h5v5h-5zM705 545h5v5h-5zM710 550h5v5h-5zM715 555h5v5h-5zM720 560h5v5h-5zM560 565h5v5h-5zM675 575h5v5h-5zM680 580h5v5h-5zM685 585h5v5h-5zM690 590h5v5h-5zM595 595h5v5h-5zM695 595h5v5h-5zM600 600h5v5h-5zM700 600h5v5h-5zM605 605h5v5h-5zM705 605h5v5h-5zM610 610h5v5h-5zM710 610h5v5h-5zM615 615h5v5h-5zM715 615h5v5h-5zM620 620h5v5h-5zM720 620h5v5h-5zM625 625h5v5h-5zM630 630h5v5h-5zM635 635h5v5h-5zM640 640h5v5h-5zM645 645h5v5h-5zM500 650h10v5h-10zM650 650h5v5h-5zM655 655h5v5h-5zM660 660h5v5h-5z"/><path fill="#a7da34" d="M485 240h5v5h-5zM525 250h5v5h-5zM720 250h5v5h-5zM520 255h5v5h-5zM715 255h5v5h-5zM520 260h5v5h-5zM710 260h5v5h-5zM705 265h5v5h-5zM700 270h5v5h-5zM695 275h5v5h-5zM535 285h5v5h-5zM535 290h5v5h-5zM490 295h5v5h-5zM615 305h5v5h-5zM580 310h5v5h-5zM610 310h5v5h-5zM575 315h5v5h-5zM585 315h5v5h-5zM580 320h5v5h-5zM590 320h10v5h-10zM585 340h5v5h-5zM615 340h5v5h-5zM600 345h5v5h-5zM590 350h5v5h-5zM690 410h5v5h-5zM605 415h10v5h-10zM670 415h5v5h-5zM585 420h10v5h-10zM665 420h5v5h-5zM600 425h15v5h-15zM625 425h5v5h-5zM550 435h5v5h-5zM595 445h5v5h-5zM670 450h5v5h-5zM630 455h5v5h-5zM650 455h5v5h-5zM660 455h5v5h-5zM545 470h5v5h-5zM640 475h10v5h-10zM565 480h5v5h-5zM630 480h5v5h-5zM560 490h5v5h-5zM590 490h5v5h-5zM645 490h5v5h-5zM660 490h5v5h-5zM685 490h5v5h-5zM700 490h10v5h-10zM560 495h5v5h-5zM590 495h5v5h-5zM600 495h10v5h-10zM670 495h5v5h-5zM715 495h5v5h-5zM600 500h5v5h-5zM620 500h5v5h-5zM630 505h5v5h-5zM585 515h10v5h-10zM605 520h5v5h-5zM680 525h5v5h-5zM605 530h5v5h-5zM640 530h5v5h-5zM675 530h5v5h-5zM690 535h5v5h-5zM580 540h5v5h-5zM685 540h5v5h-5zM580 545h5v5h-5zM560 550h5v5h-5zM620 550h10v5h-10zM645 550h5v5h-5zM695 550h5v5h-5zM650 555h5v5h-5zM705 560h5v5h-5zM570 565h10v5h-10zM580 570h5v5h-5zM715 570h5v5h-5zM585 580h5v5h-5zM500 655h5v5h-5zM495 660h5v5h-5z"/><path fill="#b2dd2d" d="M680 240h5v5h-5zM675 250h5v5h-5zM670 255h5v5h-5zM665 260h5v5h-5zM660 265h5v5h-5zM655 270h5v5h-5zM510 275h10v5h-10zM650 275h5v5h-5zM530 280h5v5h-5zM645 280h5v5h-5zM640 285h5v5h-5zM440 290h5v5h-5zM635 290h5v5h-5zM460 295h5v5h-5zM485 295h5v5h-5zM630 295h5v5h-5zM575 310h5v5h-5zM580 315h5v5h-5zM605 315h5v5h-5zM600 320h5v5h-5zM630 335h5v5h-5zM610 340h5v5h-5zM620 340h5v5h-5zM705 400h5v5h-5zM580 425h5v5h-5zM630 425h5v5h-5zM675 425h5v5h-5zM555 430h20v5h-20zM550 440h5v5h-5zM585 445h5v5h-5zM545 450h5v5h-5zM640 455h10v5h-10zM665 455h15v5h-15zM635 460h5v5h-5zM660 460h20v5h-20zM555 465h10v5h-10zM640 470h10v5h-10zM620 475h5v5h-5zM585 485h5v5h-5zM640 485h5v5h-5zM695 485h10v5h-10zM665 490h5v5h-5zM680 490h5v5h-5zM690 490h10v5h-10zM710 490h10v5h-10zM565 495h10v5h-10zM675 495h5v5h-5zM720 495h5v5h-5zM615 500h5v5h-5zM625 505h5v5h-5zM635 510h5v5h-5zM595 515h5v5h-5zM645 515h5v5h-5zM660 515h5v5h-5zM660 520h10v5h-10zM675 520h5v5h-5zM580 525h5v5h-5zM670 525h5v5h-5zM600 530h5v5h-5zM635 530h5v5h-5zM685 530h5v5h-5zM635 535h5v5h-5zM680 535h5v5h-5zM630 540h5v5h-5zM695 540h5v5h-5zM690 545h5v5h-5zM700 545h5v5h-5zM705 550h5v5h-5zM700 555h5v5h-5zM710 555h5v5h-5zM575 560h5v5h-5zM655 560h5v5h-5zM715 560h5v5h-5zM565 565h5v5h-5zM660 565h5v5h-5zM710 565h5v5h-5zM720 565h5v5h-5zM665 570h5v5h-5zM585 575h5v5h-5zM670 575h5v5h-5zM720 575h5v5h-5zM675 580h5v5h-5zM680 585h5v5h-5zM685 590h5v5h-5zM690 595h5v5h-5zM695 600h5v5h-5zM700 605h5v5h-5zM705 610h5v5h-5zM710 615h5v5h-5zM715 620h5v5h-5zM720 625h5v5h-5z"/><path fill="#bddf26" d="M485 245h5v5h-5zM680 245h5v5h-5zM495 250h5v5h-5zM495 260h5v5h-5zM510 260h5v5h-5zM495 265h5v5h-5zM445 290h10v5h-10zM495 290h5v5h-5zM530 290h5v5h-5zM465 295h20v5h-20zM625 300h5v5h-5zM620 305h5v5h-5zM615 310h5v5h-5zM610 315h5v5h-5zM585 320h5v5h-5zM635 330h5v5h-5zM585 335h5v5h-5zM625 335h5v5h-5zM590 345h10v5h-10zM720 400h5v5h-5zM700 405h5v5h-5zM675 415h10v5h-10zM670 420h5v5h-5zM590 425h10v5h-10zM575 430h5v5h-5zM635 430h5v5h-5zM685 435h5v5h-5zM580 445h5v5h-5zM600 445h5v5h-5zM675 445h5v5h-5zM575 450h10v5h-10zM610 450h5v5h-5zM630 450h5v5h-5zM675 450h5v5h-5zM615 455h5v5h-5zM630 460h5v5h-5zM655 460h5v5h-5zM550 465h5v5h-5zM565 465h5v5h-5zM665 465h10v5h-10zM570 470h5v5h-5zM570 475h5v5h-5zM650 475h5v5h-5zM635 480h20v5h-20zM695 480h5v5h-5zM645 485h15v5h-15zM685 485h10v5h-10zM705 485h10v5h-10zM650 490h10v5h-10zM575 495h5v5h-5zM600 505h5v5h-5zM665 515h5v5h-5zM670 520h5v5h-5zM655 525h5v5h-5zM675 525h5v5h-5zM615 530h5v5h-5zM680 530h5v5h-5zM580 535h5v5h-5zM685 535h5v5h-5zM690 540h5v5h-5zM585 545h5v5h-5zM695 545h5v5h-5zM565 550h20v5h-20zM700 550h5v5h-5zM560 555h5v5h-5zM575 555h5v5h-5zM705 555h5v5h-5zM570 560h5v5h-5zM710 560h5v5h-5zM580 565h5v5h-5zM715 565h5v5h-5zM585 570h5v5h-5zM720 570h5v5h-5z"/><path fill="#c8e026" d="M685 240h5v5h-5zM515 260h5v5h-5zM605 320h5v5h-5zM585 325h15v5h-15zM640 325h5v5h-5zM585 330h5v5h-5zM620 335h5v5h-5zM710 400h10v5h-10zM585 425h5v5h-5zM580 430h5v5h-5zM620 430h10v5h-10zM685 430h5v5h-5zM580 440h10v5h-10zM680 440h5v5h-5zM550 445h5v5h-5zM575 445h5v5h-5zM635 445h5v5h-5zM570 450h5v5h-5zM545 455h5v5h-5zM575 455h10v5h-10zM680 455h5v5h-5zM650 460h5v5h-5zM680 460h5v5h-5zM545 465h5v5h-5zM620 465h5v5h-5zM635 465h5v5h-5zM660 465h5v5h-5zM675 465h5v5h-5zM580 470h5v5h-5zM650 470h5v5h-5zM655 480h5v5h-5zM690 480h5v5h-5zM700 480h10v5h-10zM565 485h5v5h-5zM675 485h10v5h-10zM670 490h10v5h-10zM720 490h5v5h-5zM605 500h10v5h-10zM620 505h5v5h-5zM630 510h5v5h-5zM600 515h5v5h-5zM640 515h5v5h-5zM595 520h5v5h-5zM655 520h5v5h-5zM625 525h10v5h-10zM580 530h5v5h-5zM605 535h10v5h-10zM610 540h5v5h-5zM635 540h5v5h-5zM630 545h5v5h-5zM640 550h5v5h-5zM570 555h5v5h-5zM580 555h5v5h-5zM645 555h5v5h-5zM580 560h5v5h-5zM650 560h5v5h-5zM655 565h5v5h-5zM660 570h5v5h-5zM665 575h5v5h-5zM670 580h5v5h-5zM590 585h5v5h-5zM675 585h5v5h-5zM595 590h5v5h-5zM680 590h5v5h-5zM685 595h5v5h-5zM690 600h5v5h-5zM695 605h5v5h-5zM700 610h5v5h-5zM705 615h5v5h-5zM710 620h5v5h-5zM715 625h5v5h-5zM720 630h5v5h-5z"/><path fill="#d2e226" d="M480 240h5v5h-5zM685 245h5v5h-5zM495 255h5v5h-5zM675 255h5v5h-5zM670 260h5v5h-5zM510 265h5v5h-5zM665 265h5v5h-5zM495 270h5v5h-5zM510 270h10v5h-10zM495 275h5v5h-5zM655 275h5v5h-5zM440 285h5v5h-5zM495 285h5v5h-5zM530 285h5v5h-5zM645 285h5v5h-5zM455 290h5v5h-5zM635 295h5v5h-5zM625 305h5v5h-5zM655 310h5v5h-5zM615 315h5v5h-5zM650 315h5v5h-5zM645 320h5v5h-5zM600 325h5v5h-5zM630 330h5v5h-5zM615 335h5v5h-5zM590 340h5v5h-5zM605 340h5v5h-5zM695 410h5v5h-5zM685 415h5v5h-5zM675 420h5v5h-5zM680 425h5v5h-5zM585 430h5v5h-5zM615 430h5v5h-5zM575 435h10v5h-10zM635 435h5v5h-5zM575 440h5v5h-5zM635 440h5v5h-5zM570 445h5v5h-5zM605 445h10v5h-10zM680 450h5v5h-5zM570 455h5v5h-5zM545 460h5v5h-5zM620 460h5v5h-5zM640 460h5v5h-5zM630 465h5v5h-5zM640 465h5v5h-5zM650 465h10v5h-10zM680 465h5v5h-5zM620 470h5v5h-5zM635 470h5v5h-5zM655 470h15v5h-15zM685 470h5v5h-5zM580 475h5v5h-5zM625 475h5v5h-5zM635 475h5v5h-5zM655 475h5v5h-5zM685 475h20v5h-20zM675 480h15v5h-15zM710 480h5v5h-5zM660 485h5v5h-5zM670 485h5v5h-5zM715 485h5v5h-5zM565 490h5v5h-5zM580 495h10v5h-10zM600 510h5v5h-5zM635 515h5v5h-5zM610 525h5v5h-5zM620 525h5v5h-5zM635 525h5v5h-5zM650 525h5v5h-5zM610 530h5v5h-5zM600 535h5v5h-5zM585 540h5v5h-5zM610 545h5v5h-5zM585 550h5v5h-5zM615 550h5v5h-5zM565 555h5v5h-5zM585 555h5v5h-5zM560 560h5v5h-5zM585 565h5v5h-5zM655 570h5v5h-5zM665 580h5v5h-5zM670 585h5v5h-5zM670 590h10v5h-10zM600 595h5v5h-5zM675 595h10v5h-10zM605 600h5v5h-5zM675 600h15v5h-15zM610 605h5v5h-5zM675 605h20v5h-20zM615 610h5v5h-5zM675 610h25v5h-25zM620 615h5v5h-5zM680 615h25v5h-25zM625 620h5v5h-5zM685 620h25v5h-25zM630 625h5v5h-5zM690 625h25v5h-25zM635 630h5v5h-5zM695 630h25v5h-25zM640 635h5v5h-5zM700 635h25v5h-25zM645 640h5v5h-5zM705 640h20v5h-20zM650 645h5v5h-5zM710 645h15v5h-15zM655 650h5v5h-5zM715 650h10v5h-10zM660 655h5v5h-5zM720 655h5v5h-5zM665 660h5v5h-5zM720 660h5v5h-5z"/><path fill="#dde326" d="M480 245h5v5h-5zM720 245h5v5h-5zM490 250h5v5h-5zM680 250h5v5h-5zM715 250h5v5h-5zM710 255h5v5h-5zM705 260h5v5h-5zM515 265h5v5h-5zM700 265h5v5h-5zM660 270h5v5h-5zM695 270h5v5h-5zM690 275h5v5h-5zM495 280h5v5h-5zM650 280h5v5h-5zM685 280h5v5h-5zM445 285h5v5h-5zM680 285h5v5h-5zM640 290h5v5h-5zM675 290h5v5h-5zM670 295h5v5h-5zM630 300h5v5h-5zM665 300h5v5h-5zM660 305h5v5h-5zM620 310h5v5h-5zM610 320h5v5h-5zM605 325h5v5h-5zM635 325h5v5h-5zM590 330h5v5h-5zM620 330h10v5h-10zM590 335h5v5h-5zM610 335h5v5h-5zM595 340h10v5h-10zM680 420h5v5h-5zM600 430h15v5h-15zM630 430h5v5h-5zM555 435h5v5h-5zM570 435h5v5h-5zM585 435h5v5h-5zM555 440h5v5h-5zM570 440h5v5h-5zM590 440h5v5h-5zM615 445h5v5h-5zM680 445h5v5h-5zM550 450h5v5h-5zM615 450h5v5h-5zM625 455h5v5h-5zM685 455h5v5h-5zM550 460h20v5h-20zM580 460h5v5h-5zM645 460h5v5h-5zM685 460h5v5h-5zM570 465h5v5h-5zM580 465h5v5h-5zM645 465h5v5h-5zM685 465h10v5h-10zM575 470h5v5h-5zM670 470h5v5h-5zM680 470h5v5h-5zM690 470h15v5h-15zM575 475h5v5h-5zM630 475h5v5h-5zM660 475h5v5h-5zM680 475h5v5h-5zM705 475h5v5h-5zM570 480h5v5h-5zM580 480h5v5h-5zM670 480h5v5h-5zM665 485h5v5h-5zM570 490h5v5h-5zM585 490h5v5h-5zM605 505h5v5h-5zM615 505h5v5h-5zM625 510h5v5h-5zM630 515h5v5h-5zM585 520h10v5h-10zM630 520h10v5h-10zM650 520h5v5h-5zM595 525h5v5h-5zM640 525h10v5h-10zM605 540h5v5h-5zM635 545h5v5h-5zM630 550h5v5h-5zM620 555h10v5h-10zM640 555h5v5h-5zM565 560h5v5h-5zM585 560h5v5h-5zM645 560h5v5h-5zM650 565h5v5h-5zM645 570h10v5h-10zM645 575h20v5h-20zM590 580h5v5h-5zM650 580h15v5h-15zM650 585h20v5h-20zM650 590h20v5h-20zM655 595h20v5h-20zM660 600h15v5h-15zM660 605h15v5h-15zM665 610h10v5h-10zM670 615h10v5h-10zM675 620h10v5h-10zM680 625h10v5h-10zM685 630h10v5h-10zM690 635h10v5h-10zM695 640h10v5h-10zM700 645h10v5h-10zM705 650h10v5h-10zM710 655h10v5h-10zM715 660h5v5h-5z"/><path fill="#e8e425" d="M690 240h5v5h-5zM485 250h5v5h-5zM490 260h5v5h-5zM490 265h5v5h-5zM480 270h10v5h-10zM480 275h10v5h-10zM440 280h5v5h-5zM450 285h5v5h-5zM490 290h5v5h-5zM645 315h5v5h-5zM640 320h5v5h-5zM625 325h10v5h-10zM595 330h5v5h-5zM615 330h5v5h-5zM605 335h5v5h-5zM720 405h5v5h-5zM590 430h10v5h-10zM590 435h5v5h-5zM620 435h10v5h-10zM595 440h5v5h-5zM610 440h10v5h-10zM685 440h5v5h-5zM555 445h5v5h-5zM630 445h5v5h-5zM565 450h5v5h-5zM625 450h5v5h-5zM685 450h5v5h-5zM550 455h5v5h-5zM565 455h5v5h-5zM620 455h5v5h-5zM570 460h10v5h-10zM625 460h5v5h-5zM690 460h5v5h-5zM575 465h5v5h-5zM695 465h5v5h-5zM675 470h5v5h-5zM665 475h15v5h-15zM710 475h5v5h-5zM575 480h5v5h-5zM660 480h10v5h-10zM715 480h5v5h-5zM570 485h5v5h-5zM580 485h5v5h-5zM720 485h5v5h-5zM575 490h5v5h-5zM610 505h5v5h-5zM605 515h5v5h-5zM610 520h5v5h-5zM640 520h10v5h-10zM615 525h5v5h-5zM595 530h5v5h-5zM595 535h5v5h-5zM590 540h5v5h-5zM600 540h5v5h-5zM590 545h5v5h-5zM590 550h5v5h-5zM635 550h5v5h-5zM635 560h10v5h-10zM635 565h15v5h-15zM590 570h5v5h-5zM635 570h10v5h-10zM590 575h5v5h-5zM635 575h10v5h-10zM640 580h10v5h-10zM595 585h5v5h-5zM640 585h10v5h-10zM600 590h5v5h-5zM645 590h5v5h-5zM645 595h10v5h-10zM650 600h10v5h-10zM655 605h5v5h-5zM660 610h5v5h-5zM665 615h5v5h-5zM670 620h5v5h-5zM675 625h5v5h-5zM680 630h5v5h-5zM685 635h5v5h-5zM690 640h5v5h-5zM695 645h5v5h-5zM700 650h5v5h-5zM705 655h5v5h-5zM710 660h5v5h-5z"/><path fill="#f2e625" d="M475 240h5v5h-5zM475 245h5v5h-5zM690 245h5v5h-5zM715 245h5v5h-5zM480 250h5v5h-5zM685 250h5v5h-5zM490 255h5v5h-5zM680 255h5v5h-5zM705 255h5v5h-5zM485 260h5v5h-5zM675 260h5v5h-5zM480 265h10v5h-10zM670 265h5v5h-5zM695 265h5v5h-5zM475 270h5v5h-5zM490 270h5v5h-5zM665 270h5v5h-5zM440 275h5v5h-5zM475 275h5v5h-5zM490 275h5v5h-5zM660 275h5v5h-5zM685 275h5v5h-5zM445 280h5v5h-5zM480 280h10v5h-10zM655 280h5v5h-5zM455 285h5v5h-5zM490 285h5v5h-5zM650 285h5v5h-5zM675 285h5v5h-5zM460 290h5v5h-5zM485 290h5v5h-5zM645 290h10v5h-10zM640 295h5v5h-5zM665 295h5v5h-5zM635 300h10v5h-10zM630 305h5v5h-5zM655 305h5v5h-5zM625 310h10v5h-10zM640 310h15v5h-15zM620 315h5v5h-5zM630 315h15v5h-15zM615 320h25v5h-25zM610 325h15v5h-15zM600 330h15v5h-15zM595 335h10v5h-10zM705 405h5v5h-5zM690 415h5v5h-5zM685 420h5v5h-5zM685 425h5v5h-5zM560 435h10v5h-10zM595 435h5v5h-5zM610 435h10v5h-10zM630 435h5v5h-5zM560 440h10v5h-10zM600 440h10v5h-10zM620 440h10v5h-10zM560 445h10v5h-10zM620 445h10v5h-10zM685 445h5v5h-5zM555 450h5v5h-5zM620 450h5v5h-5zM690 450h5v5h-5zM555 455h10v5h-10zM690 455h5v5h-5zM695 460h5v5h-5zM625 465h5v5h-5zM700 465h5v5h-5zM630 470h5v5h-5zM705 470h5v5h-5zM575 485h5v5h-5zM580 490h5v5h-5zM620 510h5v5h-5zM625 515h5v5h-5zM625 520h5v5h-5zM595 540h5v5h-5zM605 545h5v5h-5zM610 550h5v5h-5zM590 555h5v5h-5zM615 555h5v5h-5zM630 555h10v5h-10zM590 560h5v5h-5zM620 560h15v5h-15zM590 565h5v5h-5zM625 565h10v5h-10zM625 570h10v5h-10zM625 575h10v5h-10zM630 580h10v5h-10zM600 585h5v5h-5zM630 585h10v5h-10zM635 590h10v5h-10zM605 595h5v5h-5zM640 595h5v5h-5zM610 600h5v5h-5zM645 600h5v5h-5zM615 605h5v5h-5zM650 605h5v5h-5zM620 610h5v5h-5zM655 610h5v5h-5zM625 615h5v5h-5zM660 615h5v5h-5zM630 620h5v5h-5zM665 620h5v5h-5zM635 625h5v5h-5zM670 625h5v5h-5zM640 630h5v5h-5zM675 630h5v5h-5zM645 635h5v5h-5zM680 635h5v5h-5zM650 640h5v5h-5zM685 640h5v5h-5zM655 645h5v5h-5zM690 645h5v5h-5zM660 650h5v5h-5zM695 650h5v5h-5zM665 655h5v5h-5zM700 655h5v5h-5zM670 660h5v5h-5zM705 660h5v5h-5z"/><path fill="#fde725" d="M440 240h35v5h-35zM695 240h30v5h-30zM440 245h35v5h-35zM695 245h20v5h-20zM440 250h40v5h-40zM690 250h25v5h-25zM440 255h50v5h-50zM685 255h20v5h-20zM440 260h45v5h-45zM680 260h25v5h-25zM440 265h40v5h-40zM675 265h20v5h-20zM440 270h35v5h-35zM670 270h25v5h-25zM445 275h30v5h-30zM665 275h20v5h-20zM450 280h30v5h-30zM490 280h5v5h-5zM660 280h25v5h-25zM460 285h30v5h-30zM655 285h20v5h-20zM465 290h20v5h-20zM655 290h20v5h-20zM645 295h20v5h-20zM645 300h20v5h-20zM635 305h20v5h-20zM635 310h5v5h-5zM625 315h5v5h-5zM710 405h10v5h-10zM700 410h25v5h-25zM695 415h30v5h-30zM690 420h35v5h-35zM690 425h35v5h-35zM690 430h35v5h-35zM600 435h10v5h-10zM690 435h35v5h-35zM630 440h5v5h-5zM690 440h35v5h-35zM690 445h35v5h-35zM560 450h5v5h-5zM695 450h30v5h-30zM695 455h30v5h-30zM700 460h25v5h-25zM705 465h20v5h-20zM625 470h5v5h-5zM710 470h15v5h-15zM715 475h10v5h-10zM720 480h5v5h-5zM605 510h15v5h-15zM610 515h15v5h-15zM615 520h10v5h-10zM585 525h10v5h-10zM585 530h10v5h-10zM585 535h10v5h-10zM595 545h10v5h-10zM595 550h15v5h-15zM595 555h20v5h-20zM595 560h25v5h-25zM595 565h30v5h-30zM595 570h30v5h-30zM595 575h30v5h-30zM595 580h35v5h-35zM605 585h25v5h-25zM605 590h30v5h-30zM610 595h30v5h-30zM615 600h30v5h-30zM620 605h30v5h-30zM625 610h30v5h-30zM630 615h30v5h-30zM635 620h30v5h-30zM640 625h30v5h-30zM645 630h30v5h-30zM650 635h30v5h-30zM655 640h30v5h-30zM660 645h30v5h-30zM665 650h30v5h-30zM670 655h30v5h-30zM675 660h30v5h-30z"/></g></g><g clip-path="url(#mc)" fill="none" stroke="#fff" stroke-linejoin="round" stroke-linecap="round"><path stroke-width="1.9" d="M524,291 L530,300 L540,307 L548,309 L550,322 L551,330 L547,349 L546,352 L550,357 L559,360 L565,366 L566,370 L562,376 L556,381 L554,392 L548,397 L540,403 L534,410 L530,420 L535,429 L545,432 L546,440 L538,450 L534,458 L535,469 L539,472 L541,482 L544,490 L552,495 L554,505 L553,520 L551,535 L548,552 L540,560 L533,572"/><path stroke-width="1.8" d="M617,388 L600,388 L588,393 L582,399 L580,404 L570,408 L561,410 L554,420 L553,440 L548,450 L540,466 L538,471"/><path stroke-width="1.4" d="M584,400 L592,406 L598,419 L606,428 L613,429 L630,422 L647,415 L668,397 L675,402 L683,406 L690,406 L698,398 L706,390 L718,384"/><path stroke-width="1.3" d="M616,390 L613,396 L607,397 L601,392 L597,397 L596,405 L592,406"/><path stroke-width="1.3" d="M555,490 L557,500 L558,505 L555,520 L554,545 L550,555 L544,566"/></g><g clip-path="url(#mc)" fill="#fff"><path d="M626,384 L646,381 L652,383 L660,384 L661,393 L655,395 L645,394 L635,393 L628,390 Z"/><path d="M650,412 L656,416 L663,414 L668,410 L667,398 Z"/><path d="M674,384 L682,386 L680,388 L675,387 Z"/><ellipse cx="562" cy="415" rx="2.5" ry="1.5"/></g><g fill="#5a2d82"><circle cx="644" cy="385.5" r="1"/><circle cx="646" cy="388" r="0.8"/><circle cx="642" cy="389" r="0.7"/><circle cx="650" cy="387" r="0.7"/><circle cx="655" cy="389" r="0.6"/></g><path d="M498,244 L504,248 L511,260 L524,262 L526,270 L524,280 L524,289 L530,285 L540,279 L556,271.5 L560,277 L574,281 L575,291.5 L581,288.5 L584,306 L598,309 L602,312 L599,330 L605,334 L609,341 L611,346 L612,358 L614,359 L613,370 L614,372 L612.5,378 L613,385 L617,388 L630,382 L646,380 L652,383 L660,384 L662,385 L675,380.5 L681,385 L692,382 L703,382 L711,378 L719,379 L721,390 L720,400 L721,412 L718,415 L716,427 L704,427 L703,430 L711,442 L693,442 L688,441 L676,447 L671,450 L663.5,458 L659,470 L657,478.5 L660,487 L663.75,485 L677,491.25 L675,501.25 L672.5,510 L668.75,512.5 L670.6,516.25 L671,523 L659,521 L655,525 L659,527.5 L659,535 L655,536 L655,546 L652.5,550 L648.5,554 L648,563 L616.5,546 L615,559 L597.5,565 L600,545 L593,541 L582,542 L570,542.5 L569.4,543.75 L568.75,570 L566.25,573.75 L556.25,579.4 L543.75,577.5 L541.25,568.75 L533,574 L532.8,591 L530.5,593 L526,605 L518.5,614 L511,621.5 L509.5,629 L515.5,635 L534.7,643.2 L520,652.2 L504,660.1 L496.3,638.7 L488.4,638.7 L483.9,646.6 L480.5,641.5 L462.4,643.2 L459,636.4 L454.5,628.5 L460.2,627.4 L467,621.8 L470.3,624 L481.6,622.9 L489.5,621.8 L495.1,611.6 L497.4,601.4 L506.4,598.1 L509.8,592.4 L517.7,589 L524.5,588.5 L529.6,588 L529.6,576 L525,573.75 L513.75,571.25 L510,567.5 L507.5,561.25 L502.5,558.75 L508.75,553.75 L512.5,550 L516.25,543.75 L515,536.25 L511,530 L507,522 L504,517 L499,515 L500,498 L506,489 L509,480 L503,474 L478,475 L475,477 L470,470 L467,465 L456,465 L453,460 L454,450 L458,449 L459,442 L452,439 L457,432 L455,425 L445,421 L441,413 L442,407 L450,403 L447,396 L443,390 L442,370 L446,368 L458,365 L465,370 L474,367 L472,362 L471,352 L472,336 L471,334 L472,320 L476,318 L478,311 L480,312 L486,332 L494,342 L500,335 L508,329 L511,320 L512,310 L512,294 L514,290 L501,291 L491,289 L480,286 L473,283 L470,275 L478,262 L484,254 L489,253 L490,248 Z" fill="none" stroke="#000" stroke-width="2.4" stroke-linejoin="round"/></svg>
</body></html>
